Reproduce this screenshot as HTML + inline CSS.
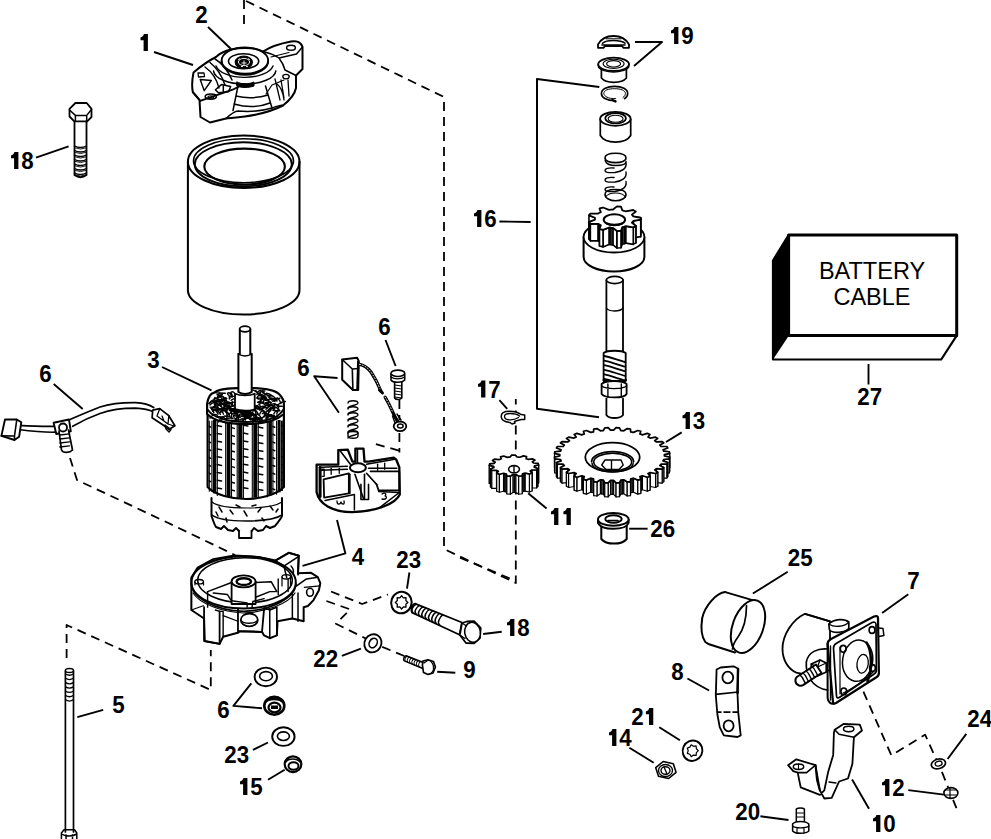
<!DOCTYPE html>
<html><head><meta charset="utf-8"><style>
html,body{margin:0;padding:0;background:#fff;width:991px;height:839px;overflow:hidden}
svg{display:block}
</style></head><body>
<svg width="991" height="839" viewBox="0 0 991 839">
<rect width="991" height="839" fill="#fff"/>
<path d="M143.90,34 L147.90,34 L147.90,51 L143.60,51 L143.60,40.2 L140.50,40.2 L140.50,37.4 C142.30,37.2 143.50,36 143.90,34 Z" fill="#000"/>
<text x="0" y="0" transform="translate(195.26,23) scale(0.93,1)" font-family="Liberation Sans, sans-serif" font-weight="bold" font-size="24">2</text>
<path d="M14.40,152 L18.40,152 L18.40,169 L14.10,169 L14.10,158.2 L11.00,158.2 L11.00,155.4 C12.80,155.2 14.00,154 14.40,152 Z" fill="#000"/>
<text x="0" y="0" transform="translate(21.21,169) scale(0.93,1)" font-family="Liberation Sans, sans-serif" font-weight="bold" font-size="24">8</text>
<path d="M674.40,27 L678.40,27 L678.40,44 L674.10,44 L674.10,33.2 L671.00,33.2 L671.00,30.4 C672.80,30.2 674.00,29 674.40,27 Z" fill="#000"/>
<text x="0" y="0" transform="translate(681.21,44) scale(0.93,1)" font-family="Liberation Sans, sans-serif" font-weight="bold" font-size="24">9</text>
<path d="M477.40,210 L481.40,210 L481.40,227 L477.10,227 L477.10,216.2 L474.00,216.2 L474.00,213.4 C475.80,213.2 477.00,212 477.40,210 Z" fill="#000"/>
<text x="0" y="0" transform="translate(484.21,227) scale(0.93,1)" font-family="Liberation Sans, sans-serif" font-weight="bold" font-size="24">6</text>
<text x="0" y="0" transform="translate(39.26,382) scale(0.93,1)" font-family="Liberation Sans, sans-serif" font-weight="bold" font-size="24">6</text>
<text x="0" y="0" transform="translate(147.26,368) scale(0.93,1)" font-family="Liberation Sans, sans-serif" font-weight="bold" font-size="24">3</text>
<text x="0" y="0" transform="translate(297.26,376) scale(0.93,1)" font-family="Liberation Sans, sans-serif" font-weight="bold" font-size="24">6</text>
<text x="0" y="0" transform="translate(378.26,335) scale(0.93,1)" font-family="Liberation Sans, sans-serif" font-weight="bold" font-size="24">6</text>
<path d="M481.40,380.5 L485.40,380.5 L485.40,397.5 L481.10,397.5 L481.10,386.7 L478.00,386.7 L478.00,383.9 C479.80,383.7 481.00,382.5 481.40,380.5 Z" fill="#000"/>
<text x="0" y="0" transform="translate(488.21,397.5) scale(0.93,1)" font-family="Liberation Sans, sans-serif" font-weight="bold" font-size="24">7</text>
<path d="M685.90,412 L689.90,412 L689.90,429 L685.60,429 L685.60,418.2 L682.50,418.2 L682.50,415.4 C684.30,415.2 685.50,414 685.90,412 Z" fill="#000"/>
<text x="0" y="0" transform="translate(692.71,429) scale(0.93,1)" font-family="Liberation Sans, sans-serif" font-weight="bold" font-size="24">3</text>
<text x="0" y="0" transform="translate(857.26,405) scale(0.93,1)" font-family="Liberation Sans, sans-serif" font-weight="bold" font-size="24">2</text>
<text x="0" y="0" transform="translate(869.67,405) scale(0.93,1)" font-family="Liberation Sans, sans-serif" font-weight="bold" font-size="24">7</text>
<path d="M554.40,508 L558.40,508 L558.40,525 L554.10,525 L554.10,514.2 L551.00,514.2 L551.00,511.4 C552.80,511.2 554.00,510 554.40,508 Z" fill="#000"/>
<path d="M566.81,508 L570.81,508 L570.81,525 L566.51,525 L566.51,514.2 L563.41,514.2 L563.41,511.4 C565.21,511.2 566.41,510 566.81,508 Z" fill="#000"/>
<text x="0" y="0" transform="translate(650.26,537) scale(0.93,1)" font-family="Liberation Sans, sans-serif" font-weight="bold" font-size="24">2</text>
<text x="0" y="0" transform="translate(662.67,537) scale(0.93,1)" font-family="Liberation Sans, sans-serif" font-weight="bold" font-size="24">6</text>
<text x="0" y="0" transform="translate(351.76,565) scale(0.93,1)" font-family="Liberation Sans, sans-serif" font-weight="bold" font-size="24">4</text>
<text x="0" y="0" transform="translate(396.26,568) scale(0.93,1)" font-family="Liberation Sans, sans-serif" font-weight="bold" font-size="24">2</text>
<text x="0" y="0" transform="translate(408.67,568) scale(0.93,1)" font-family="Liberation Sans, sans-serif" font-weight="bold" font-size="24">3</text>
<path d="M510.40,619 L514.40,619 L514.40,636 L510.10,636 L510.10,625.2 L507.00,625.2 L507.00,622.4 C508.80,622.2 510.00,621 510.40,619 Z" fill="#000"/>
<text x="0" y="0" transform="translate(517.21,636) scale(0.93,1)" font-family="Liberation Sans, sans-serif" font-weight="bold" font-size="24">8</text>
<text x="0" y="0" transform="translate(313.26,667) scale(0.93,1)" font-family="Liberation Sans, sans-serif" font-weight="bold" font-size="24">2</text>
<text x="0" y="0" transform="translate(325.67,667) scale(0.93,1)" font-family="Liberation Sans, sans-serif" font-weight="bold" font-size="24">2</text>
<text x="0" y="0" transform="translate(463.26,678) scale(0.93,1)" font-family="Liberation Sans, sans-serif" font-weight="bold" font-size="24">9</text>
<text x="0" y="0" transform="translate(112.26,712.5) scale(0.93,1)" font-family="Liberation Sans, sans-serif" font-weight="bold" font-size="24">5</text>
<text x="0" y="0" transform="translate(217.26,718) scale(0.93,1)" font-family="Liberation Sans, sans-serif" font-weight="bold" font-size="24">6</text>
<text x="0" y="0" transform="translate(224.26,763) scale(0.93,1)" font-family="Liberation Sans, sans-serif" font-weight="bold" font-size="24">2</text>
<text x="0" y="0" transform="translate(236.67,763) scale(0.93,1)" font-family="Liberation Sans, sans-serif" font-weight="bold" font-size="24">3</text>
<path d="M243.40,778 L247.40,778 L247.40,795 L243.10,795 L243.10,784.2 L240.00,784.2 L240.00,781.4 C241.80,781.2 243.00,780 243.40,778 Z" fill="#000"/>
<text x="0" y="0" transform="translate(250.21,795) scale(0.93,1)" font-family="Liberation Sans, sans-serif" font-weight="bold" font-size="24">5</text>
<text x="0" y="0" transform="translate(787.76,565.5) scale(0.93,1)" font-family="Liberation Sans, sans-serif" font-weight="bold" font-size="24">2</text>
<text x="0" y="0" transform="translate(800.17,565.5) scale(0.93,1)" font-family="Liberation Sans, sans-serif" font-weight="bold" font-size="24">5</text>
<text x="0" y="0" transform="translate(907.26,589) scale(0.93,1)" font-family="Liberation Sans, sans-serif" font-weight="bold" font-size="24">7</text>
<text x="0" y="0" transform="translate(671.26,680) scale(0.93,1)" font-family="Liberation Sans, sans-serif" font-weight="bold" font-size="24">8</text>
<text x="0" y="0" transform="translate(631.26,725) scale(0.93,1)" font-family="Liberation Sans, sans-serif" font-weight="bold" font-size="24">2</text>
<path d="M649.27,708 L653.27,708 L653.27,725 L648.97,725 L648.97,714.2 L645.87,714.2 L645.87,711.4 C647.67,711.2 648.87,710 649.27,708 Z" fill="#000"/>
<path d="M612.40,729 L616.40,729 L616.40,746 L612.10,746 L612.10,735.2 L609.00,735.2 L609.00,732.4 C610.80,732.2 612.00,731 612.40,729 Z" fill="#000"/>
<text x="0" y="0" transform="translate(619.21,746) scale(0.93,1)" font-family="Liberation Sans, sans-serif" font-weight="bold" font-size="24">4</text>
<text x="0" y="0" transform="translate(967.26,727) scale(0.93,1)" font-family="Liberation Sans, sans-serif" font-weight="bold" font-size="24">2</text>
<text x="0" y="0" transform="translate(979.67,727) scale(0.93,1)" font-family="Liberation Sans, sans-serif" font-weight="bold" font-size="24">4</text>
<path d="M885.40,779 L889.40,779 L889.40,796 L885.10,796 L885.10,785.2 L882.00,785.2 L882.00,782.4 C883.80,782.2 885.00,781 885.40,779 Z" fill="#000"/>
<text x="0" y="0" transform="translate(892.21,796) scale(0.93,1)" font-family="Liberation Sans, sans-serif" font-weight="bold" font-size="24">2</text>
<text x="0" y="0" transform="translate(735.26,820) scale(0.93,1)" font-family="Liberation Sans, sans-serif" font-weight="bold" font-size="24">2</text>
<text x="0" y="0" transform="translate(747.67,820) scale(0.93,1)" font-family="Liberation Sans, sans-serif" font-weight="bold" font-size="24">0</text>
<path d="M876.40,815 L880.40,815 L880.40,832 L876.10,832 L876.10,821.2 L873.00,821.2 L873.00,818.4 C874.80,818.2 876.00,817 876.40,815 Z" fill="#000"/>
<text x="0" y="0" transform="translate(883.21,832) scale(0.93,1)" font-family="Liberation Sans, sans-serif" font-weight="bold" font-size="24">0</text>
<polyline points="154,52 193,65" fill="none" stroke="#000" stroke-width="1.9" stroke-linejoin="round"/>
<polyline points="208,27 231,49" fill="none" stroke="#000" stroke-width="1.9" stroke-linejoin="round"/>
<polyline points="36,157.6 68.6,146.3" fill="none" stroke="#000" stroke-width="1.9" stroke-linejoin="round"/>
<polyline points="635,42 662,42 634,66" fill="none" stroke="#000" stroke-width="1.9" stroke-linejoin="round"/>
<polyline points="499.4,221.5 530.6,222" fill="none" stroke="#000" stroke-width="1.9" stroke-linejoin="round"/>
<polyline points="53.7,384 82.7,409" fill="none" stroke="#000" stroke-width="1.9" stroke-linejoin="round"/>
<polyline points="162,367 211.5,390.3" fill="none" stroke="#000" stroke-width="1.9" stroke-linejoin="round"/>
<polyline points="337.5,378 314.2,376.3 338.9,412.7" fill="none" stroke="#000" stroke-width="1.9" stroke-linejoin="round"/>
<polyline points="385.5,340 395.6,366" fill="none" stroke="#000" stroke-width="1.9" stroke-linejoin="round"/>
<polyline points="499.4,400.2 507.2,408.8" fill="none" stroke="#000" stroke-width="1.9" stroke-linejoin="round"/>
<polyline points="666,442 681.7,432.4" fill="none" stroke="#000" stroke-width="1.9" stroke-linejoin="round"/>
<polyline points="868.5,364 868.5,384.5" fill="none" stroke="#000" stroke-width="1.9" stroke-linejoin="round"/>
<polyline points="528.2,493.3 546.6,508.5" fill="none" stroke="#000" stroke-width="1.9" stroke-linejoin="round"/>
<polyline points="629.2,528.7 647.6,528.7" fill="none" stroke="#000" stroke-width="1.9" stroke-linejoin="round"/>
<polyline points="302.5,565.8 345.4,553.4 337,520" fill="none" stroke="#000" stroke-width="1.9" stroke-linejoin="round"/>
<polyline points="409.4,572.5 407,588.7" fill="none" stroke="#000" stroke-width="1.9" stroke-linejoin="round"/>
<polyline points="483.2,634 501.7,631.7" fill="none" stroke="#000" stroke-width="1.9" stroke-linejoin="round"/>
<polyline points="341.9,655.8 360.9,648.7" fill="none" stroke="#000" stroke-width="1.9" stroke-linejoin="round"/>
<polyline points="437.2,671.8 455.3,672.7" fill="none" stroke="#000" stroke-width="1.9" stroke-linejoin="round"/>
<polyline points="77.3,717.2 103.2,709.9" fill="none" stroke="#000" stroke-width="1.9" stroke-linejoin="round"/>
<polyline points="251.3,683.3 233.4,705.9 262,708.3" fill="none" stroke="#000" stroke-width="1.9" stroke-linejoin="round"/>
<polyline points="253,749.9 268,742.5" fill="none" stroke="#000" stroke-width="1.9" stroke-linejoin="round"/>
<polyline points="268,779.8 284.7,769.8" fill="none" stroke="#000" stroke-width="1.9" stroke-linejoin="round"/>
<polyline points="787.7,571.8 752.9,593.5" fill="none" stroke="#000" stroke-width="1.9" stroke-linejoin="round"/>
<polyline points="908.3,594.3 882.1,613" fill="none" stroke="#000" stroke-width="1.9" stroke-linejoin="round"/>
<polyline points="687.4,678.5 709.1,690.5" fill="none" stroke="#000" stroke-width="1.9" stroke-linejoin="round"/>
<polyline points="659.3,727.2 679.9,740.3" fill="none" stroke="#000" stroke-width="1.9" stroke-linejoin="round"/>
<polyline points="629.4,747.8 653.7,762.8" fill="none" stroke="#000" stroke-width="1.9" stroke-linejoin="round"/>
<polyline points="852.1,779.6 869,808.8" fill="none" stroke="#000" stroke-width="1.9" stroke-linejoin="round"/>
<polyline points="760.4,816.3 788.5,820" fill="none" stroke="#000" stroke-width="1.9" stroke-linejoin="round"/>
<polyline points="966.3,733.9 947.6,759" fill="none" stroke="#000" stroke-width="1.9" stroke-linejoin="round"/>
<polyline points="908.3,790.1 943.9,794.6" fill="none" stroke="#000" stroke-width="1.9" stroke-linejoin="round"/>
<polyline points="599.3,87 537,79 537,408.8 599,417.2" fill="none" stroke="#000" stroke-width="2" stroke-linejoin="round"/>
<polyline points="244,0 244,27" fill="none" stroke="#000" stroke-width="1.8" stroke-linejoin="round" stroke-dasharray="9,6"/>
<polyline points="246,1 444,97 444,549 515.8,583 515.8,399" fill="none" stroke="#000" stroke-width="1.8" stroke-linejoin="round" stroke-dasharray="9,6"/>
<polyline points="460,557.6 515.8,581" fill="none" stroke="#000" stroke-width="1.8" stroke-linejoin="round" stroke-dasharray="9,6"/>
<polyline points="70,458 77,480 162,520 235,555" fill="none" stroke="#000" stroke-width="1.8" stroke-linejoin="round" stroke-dasharray="9,6"/>
<polyline points="66.6,658 66.6,625 210.8,690 210.8,650" fill="none" stroke="#000" stroke-width="1.8" stroke-linejoin="round" stroke-dasharray="9,6"/>
<polyline points="331,591.5 362.1,604 388,594.5" fill="none" stroke="#000" stroke-width="1.8" stroke-linejoin="round" stroke-dasharray="9,6"/>
<polyline points="326.4,601 350.2,609.4 335.9,623.7 366,638.6" fill="none" stroke="#000" stroke-width="1.8" stroke-linejoin="round" stroke-dasharray="9,6"/>
<polyline points="382.2,646.8 404.3,656" fill="none" stroke="#000" stroke-width="1.8" stroke-linejoin="round" stroke-dasharray="9,6"/>
<polyline points="399.4,400 399.4,420" fill="none" stroke="#000" stroke-width="1.8" stroke-linejoin="round" stroke-dasharray="9,6"/>
<polyline points="399.4,433 399.4,452.5" fill="none" stroke="#000" stroke-width="1.8" stroke-linejoin="round" stroke-dasharray="9,6"/>
<polyline points="375.9,444.2 400.5,451" fill="none" stroke="#000" stroke-width="1.8" stroke-linejoin="round" stroke-dasharray="9,6"/>
<polyline points="863.4,691.6 891.4,755.3 925.1,734.7 942,772.1 957,809.6" fill="none" stroke="#000" stroke-width="1.8" stroke-linejoin="round" stroke-dasharray="9,6"/>
<polygon points="773,260.5 788.6,235 788.6,336 773,359.5" fill="#000"/>
<polygon points="788.6,235 956.7,235 956.7,335.6 788.6,335.6" fill="none" stroke="#000" stroke-width="3" stroke-linejoin="round"/>
<polyline points="788.6,335.6 956.7,335.6 941.2,359.5 773,359.5 773,260.5 788.6,235" fill="none" stroke="#000" stroke-width="2.2" stroke-linejoin="round"/>
<text x="872" y="279" text-anchor="middle" font-family="Liberation Sans, sans-serif" font-size="23.5">BATTERY</text>
<text x="872" y="305.3" text-anchor="middle" font-family="Liberation Sans, sans-serif" font-size="23.5">CABLE</text>
<path d="M187.9,161.7 L187.9,290 A55.8,24.5 0 0 0 299.5,290 L299.5,161.7" fill="none" stroke="#000" stroke-width="2" stroke-linejoin="round" stroke-linecap="round" />
<ellipse cx="243.7" cy="161.7" rx="55.8" ry="26.2" fill="none" stroke="#000" stroke-width="2"/>
<ellipse cx="243.5" cy="160.7" rx="50" ry="22" fill="none" stroke="#000" stroke-width="1.6"/>
<ellipse cx="243.3" cy="164.3" rx="48.5" ry="22" fill="none" stroke="#000" stroke-width="1.9"/>
<ellipse cx="244.6" cy="166.6" rx="40.3" ry="18" fill="none" stroke="#000" stroke-width="2.1"/>
<path d="M193.5,72.5 C192,80 192,88 192.8,92 L199.5,100 L200.5,117 L210,122.5 L226,118.5 C240,117 262,116 283,105.5 C290,100 295,93 296,88 L296,75.5 L302.5,69 L302.5,47 C301,42 296,40.5 291,41.5 C283,43 270,47 263,51.5 C255,47 235,46.5 222.5,52.5 C219,54 217,56 216,57 C208,61 200,67 193.5,72.5 Z" fill="#fff" stroke="#000" stroke-width="2" stroke-linejoin="round" stroke-linecap="round" />
<path d="M213.5,71 A31.2,13.9 0 0 0 275.8,71" fill="none" stroke="#000" stroke-width="1.6" stroke-linejoin="round" stroke-linecap="round" />
<path d="M216,66 A29,14 0 0 0 273,66" fill="none" stroke="#000" stroke-width="1.4" stroke-linejoin="round" stroke-linecap="round" />
<path d="M221.6,61 A23.3,13.9 0 0 0 268.2,61" fill="none" stroke="#000" stroke-width="1.8" stroke-linejoin="round" stroke-linecap="round" />
<ellipse cx="244.9" cy="60.5" rx="23.3" ry="13.2" fill="none" stroke="#000" stroke-width="1.8"/>
<ellipse cx="243.6" cy="61.2" rx="15.1" ry="7.5" fill="none" stroke="#000" stroke-width="1.6"/>
<ellipse cx="243.8" cy="62.3" rx="8.6" ry="6.1" fill="#000" stroke="#000" stroke-width="1.2"/>
<ellipse cx="244" cy="62" rx="5.6" ry="3.6" fill="none" stroke="#fff" stroke-width="0.9"/>
<path d="M241.5,63 L246.5,63 M244,60.5 L244,65.5 M238,60 L240,58.5 M248,58.5 L250,60 M241,66.5 L243,66.5 M246,66.5 L248,66.5" stroke="#fff" stroke-width="0.9" fill="none"/>
<path d="M237,82 C242,84.5 248,84.5 254,82 L254,86 C248,88 242,88 237,86 Z" fill="#000" stroke="#000" stroke-width="1" stroke-linejoin="round" stroke-linecap="round" />
<path d="M238,86 L233,110.5 M265.5,86 L272,108 M236,96 C248,99 258,98 268,95 M234,104 C248,108 260,107 270,103" fill="none" stroke="#000" stroke-width="1.5" stroke-linejoin="round" stroke-linecap="round" />
<path d="M226,118.5 C232,113 236,111 238,111 C250,112 262,111 272,108 C278,106 282,104 283,105.5" fill="none" stroke="#000" stroke-width="1.5" stroke-linejoin="round" stroke-linecap="round" />
<path d="M200.2,100.8 L232.6,89.7 L238.7,86.6" fill="none" stroke="#000" stroke-width="1.8" stroke-linejoin="round" stroke-linecap="round" />
<path d="M193,92.5 L200.2,100.8" fill="none" stroke="#000" stroke-width="1.5" stroke-linejoin="round" stroke-linecap="round" />
<ellipse cx="210.8" cy="96.6" rx="5.6" ry="2.6" fill="none" stroke="#000" stroke-width="1.6"/>
<ellipse cx="210.8" cy="96.9" rx="2.8" ry="1.2" fill="none" stroke="#000" stroke-width="1.1"/>
<path d="M215.4,89.7 L221.4,84.6 L230.6,86.6 L228.5,91.7 L218.4,92.7 Z M223.3,85.5 L223.3,92" fill="none" stroke="#000" stroke-width="1.5" stroke-linejoin="round" stroke-linecap="round" />
<path d="M200.2,79.5 L211.3,80.5 L204.2,90.7 Z" fill="none" stroke="#000" stroke-width="1.4" stroke-linejoin="round" stroke-linecap="round" />
<path d="M198,73 L204,73 L204.5,76.5 L198.5,77 Z" fill="none" stroke="#000" stroke-width="1.3" stroke-linejoin="round" stroke-linecap="round" />
<path d="M205,67 C212,72 217,80 219,88 M210,62.5 C217,68 222,76 225,85 M215,59 C222,63 228,71 232,80" fill="none" stroke="#000" stroke-width="1.5" stroke-linejoin="round" stroke-linecap="round" />
<path d="M263,51.5 C270,53 276,56 279,58 L296.5,54 L302.5,47 M279,58 C282,62 284,66 285,70 L296,75.5" fill="none" stroke="#000" stroke-width="1.5" stroke-linejoin="round" stroke-linecap="round" />
<ellipse cx="291" cy="47.8" rx="4.4" ry="2.5" fill="none" stroke="#000" stroke-width="1.4"/>
<path d="M271,57 L289,52.5" fill="none" stroke="#000" stroke-width="1.2" stroke-linejoin="round" stroke-linecap="round" />
<ellipse cx="286" cy="76.6" rx="3.2" ry="2.2" fill="none" stroke="#000" stroke-width="1.3"/>
<path d="M275,79 L280,100 M281,80 L284,98 M288,80 L289,96 M277,84 C281,87 283,92 284,100" fill="none" stroke="#000" stroke-width="1.3" stroke-linejoin="round" stroke-linecap="round" />
<path d="M266,94 L272,85 L284,80" fill="none" stroke="#000" stroke-width="1.2" stroke-linejoin="round" stroke-linecap="round" />
<path d="M69.5,108.9 L75.4,103 L86.7,103 L91.5,108.9 L91.5,117 L87.2,121.3 L74.3,121.3 L69.5,116.5 Z" fill="#fff" stroke="#000" stroke-width="1.8" stroke-linejoin="round" stroke-linecap="round" />
<path d="M69.5,110 L75.4,115.4 L86.7,115.4 L91.5,109.5 M75.4,115.4 L75.4,121.3 M86.7,115.4 L86.7,121.3" fill="none" stroke="#000" stroke-width="1.5" stroke-linejoin="round" stroke-linecap="round" />
<path d="M74.5,121.3 L74.5,175 Q80.5,179.5 86.5,175 L86.5,121.3" fill="none" stroke="#000" stroke-width="1.8" stroke-linejoin="round" stroke-linecap="round" />
<path d="M74.5,146.0 Q80.5,149.0 86.5,146.0" fill="none" stroke="#000" stroke-width="1.3" stroke-linejoin="round" stroke-linecap="round" />
<path d="M74.5,147.8 Q80.5,150.5 86.5,147.8" fill="none" stroke="#000" stroke-width="0.9" stroke-linejoin="round" stroke-linecap="round" />
<path d="M74.5,150.5 Q80.5,153.5 86.5,150.5" fill="none" stroke="#000" stroke-width="1.3" stroke-linejoin="round" stroke-linecap="round" />
<path d="M74.5,152.3 Q80.5,155.0 86.5,152.3" fill="none" stroke="#000" stroke-width="0.9" stroke-linejoin="round" stroke-linecap="round" />
<path d="M74.5,155.0 Q80.5,158.0 86.5,155.0" fill="none" stroke="#000" stroke-width="1.3" stroke-linejoin="round" stroke-linecap="round" />
<path d="M74.5,156.8 Q80.5,159.5 86.5,156.8" fill="none" stroke="#000" stroke-width="0.9" stroke-linejoin="round" stroke-linecap="round" />
<path d="M74.5,159.5 Q80.5,162.5 86.5,159.5" fill="none" stroke="#000" stroke-width="1.3" stroke-linejoin="round" stroke-linecap="round" />
<path d="M74.5,161.3 Q80.5,164.0 86.5,161.3" fill="none" stroke="#000" stroke-width="0.9" stroke-linejoin="round" stroke-linecap="round" />
<path d="M74.5,164.0 Q80.5,167.0 86.5,164.0" fill="none" stroke="#000" stroke-width="1.3" stroke-linejoin="round" stroke-linecap="round" />
<path d="M74.5,165.8 Q80.5,168.5 86.5,165.8" fill="none" stroke="#000" stroke-width="0.9" stroke-linejoin="round" stroke-linecap="round" />
<path d="M74.5,168.5 Q80.5,171.5 86.5,168.5" fill="none" stroke="#000" stroke-width="1.3" stroke-linejoin="round" stroke-linecap="round" />
<path d="M74.5,170.3 Q80.5,173.0 86.5,170.3" fill="none" stroke="#000" stroke-width="0.9" stroke-linejoin="round" stroke-linecap="round" />
<path d="M74.5,173.0 Q80.5,176.0 86.5,173.0" fill="none" stroke="#000" stroke-width="1.3" stroke-linejoin="round" stroke-linecap="round" />
<path d="M74.5,174.8 Q80.5,177.5 86.5,174.8" fill="none" stroke="#000" stroke-width="0.9" stroke-linejoin="round" stroke-linecap="round" />
<path d="M598,47.8 L598,44.5 C601,39 606,36 613.5,36 C621,36 626,39 629,44.5 L629,47.8 L623.5,47.8 L622,46 L605,46 L603.5,47.8 Z" fill="#fff" stroke="#000" stroke-width="1.8" stroke-linejoin="round" stroke-linecap="round" />
<path d="M602.5,43.2 C605,40.8 609,40.5 613.5,40.5 C618,40.5 622,40.8 625,43.2" fill="none" stroke="#000" stroke-width="1.5" stroke-linejoin="round" stroke-linecap="round" />
<path d="M606,38.8 L621,38.8" fill="none" stroke="#000" stroke-width="1.0" stroke-linejoin="round" stroke-linecap="round" />
<path d="M602,45 L625,45" fill="none" stroke="#000" stroke-width="1.6" stroke-linejoin="round" stroke-linecap="round" />
<path d="M601.4,68 L601.4,78 C604,81 609,82.3 613.6,82.3 C618,82.3 624,81 626.4,78 L626.4,68" fill="#fff" stroke="#000" stroke-width="1.7" stroke-linejoin="round" stroke-linecap="round" />
<ellipse cx="613.6" cy="64.3" rx="15.4" ry="6.6" fill="#fff" stroke="#000" stroke-width="1.8"/>
<path d="M598.2,64.3 L598.5,67 C600,70 607,72 613.6,72 C620,72 627,70 628.7,67 L629,64.3" fill="none" stroke="#000" stroke-width="1.4" stroke-linejoin="round" stroke-linecap="round" />
<ellipse cx="613.6" cy="63.8" rx="10.5" ry="4.6" fill="none" stroke="#000" stroke-width="1.1"/>
<ellipse cx="613.6" cy="63.8" rx="7" ry="3.2" fill="none" stroke="#000" stroke-width="1.2"/>
<path d="M615.5,100.8 C606,101 601.3,97 601.4,93.5 C601.5,89 607,86.4 614.6,86.4 C622,86.4 627.7,89 627.7,93.5 C627.7,95.5 626.5,97.5 624.5,98.7" fill="none" stroke="#000" stroke-width="1.6" stroke-linejoin="round" stroke-linecap="round" />
<path d="M615.5,98.6 C608,99 604,96 603.8,93.5 C603.9,90.3 608,88.7 614.6,88.7 C621,88.7 625.3,90.5 625.4,93.5 C625.4,95 624.5,96.5 623,97.5" fill="none" stroke="#000" stroke-width="1" stroke-linejoin="round" stroke-linecap="round" />
<path d="M612.5,100 L615.5,101.5" fill="none" stroke="#000" stroke-width="2.4" stroke-linejoin="round" stroke-linecap="round" />
<path d="M600.3,119 L600.3,135.5 C603,140 609,142.1 615.4,142.1 C622,142.1 628,140 630.7,135.5 L630.7,119" fill="#fff" stroke="#000" stroke-width="1.7" stroke-linejoin="round" stroke-linecap="round" />
<ellipse cx="615.4" cy="118.8" rx="15.2" ry="7" fill="#fff" stroke="#000" stroke-width="1.8"/>
<ellipse cx="615.6" cy="118.3" rx="10.3" ry="5.2" fill="none" stroke="#000" stroke-width="1.7"/>
<ellipse cx="615.6" cy="118.8" rx="7.5" ry="3.5" fill="none" stroke="#000" stroke-width="1.1"/>
<path d="M605,158 C605,154.5 610,153.3 615.5,153.3 C621,153.3 626,154.5 626,158 C626,161 621,162.6 615.5,162.6 C610,162.6 605,161 605,158 Z" fill="none" stroke="#000" stroke-width="1.6" stroke-linejoin="round" stroke-linecap="round" />
<path d="M605.2,160.5 C606,164.5 611,165.5 616,165.5 C622,165.5 626,164 626,161.5" fill="none" stroke="#000" stroke-width="1.4" stroke-linejoin="round" stroke-linecap="round" />
<path d="M626,162.5 C627,168.5 622,171.5 615,172.5 C608,173.0 605,172.5 605,170.5 C605,168.5 608,167.5 614,168.0" fill="none" stroke="#000" stroke-width="1.4" stroke-linejoin="round" stroke-linecap="round" />
<path d="M626,172.0 C627,178.0 622,181.0 615,182.0 C608,182.5 605,182.0 605,180.0 C605,178.0 608,177.0 614,177.5" fill="none" stroke="#000" stroke-width="1.4" stroke-linejoin="round" stroke-linecap="round" />
<path d="M626,181.5 C627,187.5 622,190.5 615,191.5 C608,192.0 605,191.5 605,189.5 C605,187.5 608,186.5 614,187.0" fill="none" stroke="#000" stroke-width="1.4" stroke-linejoin="round" stroke-linecap="round" />
<path d="M605,194.5 C605,191 610,189.5 615.5,189.5 C621,189.5 626,191 626,194.5 C626,198 621,200.8 615.5,200.8 C610,200.8 605,198 605,194.5 Z" fill="none" stroke="#000" stroke-width="1.6" stroke-linejoin="round" stroke-linecap="round" />
<path d="M605.5,197 C608,193.5 612,193 615.5,193 C620,193 624,194 625.5,197.5" fill="none" stroke="#000" stroke-width="1.1" stroke-linejoin="round" stroke-linecap="round" />
<path d="M606.4,280 L606.4,356 M623,280 L623,356" fill="none" stroke="#000" stroke-width="1.8" stroke-linejoin="round" stroke-linecap="round" />
<ellipse cx="614.7" cy="280" rx="8.3" ry="3.6" fill="#fff" stroke="#000" stroke-width="1.7"/>
<path d="M606.4,308 C609,312 620,312 623,308" fill="none" stroke="#000" stroke-width="1.3" stroke-linejoin="round" stroke-linecap="round" />
<path d="M603.6,353 L603.6,381 L625.7,381 L625.7,353 C622,350 607,350 603.6,353 Z" fill="#fff" stroke="#000" stroke-width="1.8" stroke-linejoin="round" stroke-linecap="round" />
<path d="M604.5,356.0 C610,357.0 620,361.0 625,362.0" fill="none" stroke="#000" stroke-width="1.8" stroke-linejoin="round" stroke-linecap="round" />
<path d="M604.5,360.6 C610,361.6 620,365.6 625,366.6" fill="none" stroke="#000" stroke-width="1.8" stroke-linejoin="round" stroke-linecap="round" />
<path d="M604.5,365.2 C610,366.2 620,370.2 625,371.2" fill="none" stroke="#000" stroke-width="1.8" stroke-linejoin="round" stroke-linecap="round" />
<path d="M604.5,369.8 C610,370.8 620,374.8 625,375.8" fill="none" stroke="#000" stroke-width="1.8" stroke-linejoin="round" stroke-linecap="round" />
<path d="M604.5,374.4 C610,375.4 620,379.4 625,380.4" fill="none" stroke="#000" stroke-width="1.8" stroke-linejoin="round" stroke-linecap="round" />
<path d="M604.5,379.0 C610,380.0 620,384.0 625,385.0" fill="none" stroke="#000" stroke-width="1.8" stroke-linejoin="round" stroke-linecap="round" />
<path d="M603.5,380 C610,384 620,384 626,380" fill="none" stroke="#000" stroke-width="2" stroke-linejoin="round" stroke-linecap="round" />
<path d="M601.6,384 L601.6,394 C605,398.6 624,398.6 626.6,394 L626.6,384 C622,380 606,380 601.6,384 Z" fill="#fff" stroke="#000" stroke-width="1.8" stroke-linejoin="round" stroke-linecap="round" />
<path d="M607.9,384 L607.9,397.5 M621.3,384 L621.3,397.5 M601.6,386 C606,389.5 622,389.5 626.6,386" fill="none" stroke="#000" stroke-width="1.4" stroke-linejoin="round" stroke-linecap="round" />
<path d="M606.4,398.6 L606.4,415 C609,419 620,419 623,415 L623,398.6" fill="none" stroke="#000" stroke-width="1.8" stroke-linejoin="round" stroke-linecap="round" />
<path d="M583.6,237 L583.6,257 A30.4,14.5 0 0 0 644.4,257 L644.4,237" fill="#fff" stroke="#000" stroke-width="2" stroke-linejoin="round" stroke-linecap="round" />
<ellipse cx="614" cy="237" rx="30.4" ry="15.5" fill="#fff" stroke="#000" stroke-width="1.8"/>
<path d="M595.00,217.75 L588.97,215.37 L588.97,232.37 L595.00,234.75 Z" fill="#fff" stroke="#000" stroke-width="1.6" stroke-linejoin="round"/>
<path d="M633.32,216.47 L640.72,217.74 L640.72,234.74 L633.32,233.47 Z" fill="#fff" stroke="#000" stroke-width="1.6" stroke-linejoin="round"/>
<path d="M594.90,218.71 L595.00,217.75 L595.00,234.75 L594.90,235.71 Z" fill="#fff" stroke="#000" stroke-width="1.6" stroke-linejoin="round"/>
<path d="M640.72,217.74 L640.72,219.64 L640.72,236.64 L640.72,234.74 Z" fill="#fff" stroke="#000" stroke-width="1.6" stroke-linejoin="round"/>
<path d="M595.01,219.67 L594.90,218.71 L594.90,235.71 L595.01,236.67 Z" fill="#fff" stroke="#000" stroke-width="1.6" stroke-linejoin="round"/>
<path d="M640.72,219.64 L633.33,220.91 L633.33,237.91 L640.72,236.64 Z" fill="#fff" stroke="#000" stroke-width="1.6" stroke-linejoin="round"/>
<path d="M588.98,222.05 L595.01,219.67 L595.01,236.67 L588.98,239.05 Z" fill="#fff" stroke="#000" stroke-width="1.6" stroke-linejoin="round"/>
<path d="M633.33,220.91 L632.73,221.83 L632.73,238.83 L633.33,237.91 Z" fill="#fff" stroke="#000" stroke-width="1.6" stroke-linejoin="round"/>
<path d="M632.73,221.83 L631.93,222.71 L631.93,239.71 L632.73,238.83 Z" fill="#fff" stroke="#000" stroke-width="1.6" stroke-linejoin="round"/>
<path d="M590.37,223.84 L588.98,222.05 L588.98,239.05 L590.37,240.84 Z" fill="#fff" stroke="#000" stroke-width="1.6" stroke-linejoin="round"/>
<path d="M598.24,223.83 L590.37,223.84 L590.37,240.84 L598.24,240.83 Z" fill="#fff" stroke="#000" stroke-width="1.6" stroke-linejoin="round"/>
<path d="M599.47,224.60 L598.24,223.83 L598.24,240.83 L599.47,241.60 Z" fill="#fff" stroke="#000" stroke-width="1.6" stroke-linejoin="round"/>
<path d="M631.93,222.71 L635.88,225.91 L635.88,242.91 L631.93,239.71 Z" fill="#fff" stroke="#000" stroke-width="1.6" stroke-linejoin="round"/>
<path d="M600.87,225.30 L599.47,224.60 L599.47,241.60 L600.87,242.30 Z" fill="#fff" stroke="#000" stroke-width="1.6" stroke-linejoin="round"/>
<path d="M625.88,226.11 L624.17,226.63 L624.17,243.63 L625.88,243.11 Z" fill="#fff" stroke="#000" stroke-width="1.6" stroke-linejoin="round"/>
<path d="M635.88,225.91 L633.28,227.37 L633.28,244.37 L635.88,242.91 Z" fill="#fff" stroke="#000" stroke-width="1.6" stroke-linejoin="round"/>
<path d="M633.28,227.37 L625.88,226.11 L625.88,243.11 L633.28,244.37 Z" fill="#fff" stroke="#000" stroke-width="1.6" stroke-linejoin="round"/>
<path d="M624.17,226.63 L622.35,227.07 L622.35,244.07 L624.17,243.63 Z" fill="#fff" stroke="#000" stroke-width="1.6" stroke-linejoin="round"/>
<path d="M599.51,228.94 L600.87,225.30 L600.87,242.30 L599.51,245.94 Z" fill="#fff" stroke="#000" stroke-width="1.6" stroke-linejoin="round"/>
<path d="M611.03,227.73 L609.04,227.51 L609.04,244.51 L611.03,244.73 Z" fill="#fff" stroke="#000" stroke-width="1.6" stroke-linejoin="round"/>
<path d="M613.06,227.84 L611.03,227.73 L611.03,244.73 L613.06,244.84 Z" fill="#fff" stroke="#000" stroke-width="1.6" stroke-linejoin="round"/>
<path d="M609.04,227.51 L603.02,229.89 L603.02,246.89 L609.04,244.51 Z" fill="#fff" stroke="#000" stroke-width="1.6" stroke-linejoin="round"/>
<path d="M622.35,227.07 L620.99,230.72 L620.99,247.72 L622.35,244.07 Z" fill="#fff" stroke="#000" stroke-width="1.6" stroke-linejoin="round"/>
<path d="M603.02,229.89 L599.51,228.94 L599.51,245.94 L603.02,246.89 Z" fill="#fff" stroke="#000" stroke-width="1.6" stroke-linejoin="round"/>
<path d="M617.00,231.05 L613.06,227.84 L613.06,244.84 L617.00,248.05 Z" fill="#fff" stroke="#000" stroke-width="1.6" stroke-linejoin="round"/>
<path d="M620.99,230.72 L617.00,231.05 L617.00,248.05 L620.99,247.72 Z" fill="#fff" stroke="#000" stroke-width="1.6" stroke-linejoin="round"/>
<path d="M632.72,215.56 L633.32,216.47 L640.72,217.74 L640.72,219.64 L633.33,220.91 L632.73,221.83 L631.93,222.71 L635.88,225.91 L633.28,227.37 L625.88,226.11 L624.17,226.63 L622.35,227.07 L620.99,230.72 L617.00,231.05 L613.06,227.84 L611.03,227.73 L609.04,227.51 L603.02,229.89 L599.51,228.94 L600.87,225.30 L599.47,224.60 L598.24,223.83 L590.37,223.84 L588.98,222.05 L595.01,219.67 L594.90,218.71 L595.00,217.75 L588.97,215.37 L590.35,213.58 L598.22,213.58 L599.45,212.82 L600.84,212.11 L599.46,208.47 L602.97,207.52 L609.01,209.89 L611.00,209.68 L613.02,209.56 L616.95,206.35 L620.94,206.68 L622.31,210.32 L624.13,210.76 L625.85,211.28 L633.24,210.01 L635.85,211.47 L631.92,214.67 Z" fill="#fff" stroke="#000" stroke-width="1.8" stroke-linejoin="round"/>
<ellipse cx="614.4" cy="219.7" rx="10.7" ry="5.4" fill="#fff" stroke="#000" stroke-width="2"/>
<path d="M607,223.5 C611,225.5 618,225.5 622,223.5" fill="none" stroke="#000" stroke-width="2.4" stroke-linejoin="round" stroke-linecap="round" />
<path d="M560.80,450.40 L561.13,449.68 L561.13,463.68 L560.80,464.40 Z" fill="#fff" stroke="#000" stroke-width="1.2" stroke-linejoin="round"/>
<path d="M663.07,449.68 L663.40,450.40 L663.40,464.40 L663.07,463.68 Z" fill="#fff" stroke="#000" stroke-width="1.2" stroke-linejoin="round"/>
<path d="M560.53,451.13 L560.80,450.40 L560.80,464.40 L560.53,465.13 Z" fill="#fff" stroke="#000" stroke-width="1.2" stroke-linejoin="round"/>
<path d="M663.40,450.40 L663.67,451.13 L663.67,465.13 L663.40,464.40 Z" fill="#fff" stroke="#000" stroke-width="1.2" stroke-linejoin="round"/>
<path d="M554.87,451.77 L560.53,451.13 L560.53,465.13 L554.87,465.77 Z" fill="#fff" stroke="#000" stroke-width="1.2" stroke-linejoin="round"/>
<path d="M663.67,451.13 L669.33,451.77 L669.33,465.77 L663.67,465.13 Z" fill="#fff" stroke="#000" stroke-width="1.2" stroke-linejoin="round"/>
<path d="M554.54,453.40 L554.87,451.77 L554.87,465.77 L554.54,467.40 Z" fill="#fff" stroke="#000" stroke-width="1.2" stroke-linejoin="round"/>
<path d="M669.33,451.77 L669.66,453.40 L669.66,467.40 L669.33,465.77 Z" fill="#fff" stroke="#000" stroke-width="1.2" stroke-linejoin="round"/>
<path d="M669.66,453.40 L664.38,454.56 L664.38,468.56 L669.66,467.40 Z" fill="#fff" stroke="#000" stroke-width="1.2" stroke-linejoin="round"/>
<path d="M559.82,454.56 L554.54,453.40 L554.54,467.40 L559.82,468.56 Z" fill="#fff" stroke="#000" stroke-width="1.2" stroke-linejoin="round"/>
<path d="M559.80,455.30 L559.82,454.56 L559.82,468.56 L559.80,469.30 Z" fill="#fff" stroke="#000" stroke-width="1.2" stroke-linejoin="round"/>
<path d="M664.38,454.56 L664.40,455.30 L664.40,469.30 L664.38,468.56 Z" fill="#fff" stroke="#000" stroke-width="1.2" stroke-linejoin="round"/>
<path d="M664.40,455.30 L664.38,456.04 L664.38,470.04 L664.40,469.30 Z" fill="#fff" stroke="#000" stroke-width="1.2" stroke-linejoin="round"/>
<path d="M559.82,456.04 L559.80,455.30 L559.80,469.30 L559.82,470.04 Z" fill="#fff" stroke="#000" stroke-width="1.2" stroke-linejoin="round"/>
<path d="M664.38,456.04 L669.66,457.20 L669.66,471.20 L664.38,470.04 Z" fill="#fff" stroke="#000" stroke-width="1.2" stroke-linejoin="round"/>
<path d="M554.54,457.20 L559.82,456.04 L559.82,470.04 L554.54,471.20 Z" fill="#fff" stroke="#000" stroke-width="1.2" stroke-linejoin="round"/>
<path d="M669.66,457.20 L669.33,458.83 L669.33,472.83 L669.66,471.20 Z" fill="#fff" stroke="#000" stroke-width="1.2" stroke-linejoin="round"/>
<path d="M554.87,458.83 L554.54,457.20 L554.54,471.20 L554.87,472.83 Z" fill="#fff" stroke="#000" stroke-width="1.2" stroke-linejoin="round"/>
<path d="M669.33,458.83 L663.67,459.47 L663.67,473.47 L669.33,472.83 Z" fill="#fff" stroke="#000" stroke-width="1.2" stroke-linejoin="round"/>
<path d="M560.53,459.47 L554.87,458.83 L554.87,472.83 L560.53,473.47 Z" fill="#fff" stroke="#000" stroke-width="1.2" stroke-linejoin="round"/>
<path d="M663.67,459.47 L663.40,460.20 L663.40,474.20 L663.67,473.47 Z" fill="#fff" stroke="#000" stroke-width="1.2" stroke-linejoin="round"/>
<path d="M560.80,460.20 L560.53,459.47 L560.53,473.47 L560.80,474.20 Z" fill="#fff" stroke="#000" stroke-width="1.2" stroke-linejoin="round"/>
<path d="M663.40,460.20 L663.07,460.92 L663.07,474.92 L663.40,474.20 Z" fill="#fff" stroke="#000" stroke-width="1.2" stroke-linejoin="round"/>
<path d="M561.13,460.92 L560.80,460.20 L560.80,474.20 L561.13,474.92 Z" fill="#fff" stroke="#000" stroke-width="1.2" stroke-linejoin="round"/>
<path d="M663.07,460.92 L667.78,462.56 L667.78,476.56 L663.07,474.92 Z" fill="#fff" stroke="#000" stroke-width="1.2" stroke-linejoin="round"/>
<path d="M556.42,462.56 L561.13,460.92 L561.13,474.92 L556.42,476.56 Z" fill="#fff" stroke="#000" stroke-width="1.2" stroke-linejoin="round"/>
<path d="M667.78,462.56 L666.80,464.12 L666.80,478.12 L667.78,476.56 Z" fill="#fff" stroke="#000" stroke-width="1.2" stroke-linejoin="round"/>
<path d="M557.40,464.12 L556.42,462.56 L556.42,476.56 L557.40,478.12 Z" fill="#fff" stroke="#000" stroke-width="1.2" stroke-linejoin="round"/>
<path d="M666.80,464.12 L660.99,464.22 L660.99,478.22 L666.80,478.12 Z" fill="#fff" stroke="#000" stroke-width="1.2" stroke-linejoin="round"/>
<path d="M563.21,464.22 L557.40,464.12 L557.40,478.12 L563.21,478.22 Z" fill="#fff" stroke="#000" stroke-width="1.2" stroke-linejoin="round"/>
<path d="M660.99,464.22 L660.42,464.91 L660.42,478.91 L660.99,478.22 Z" fill="#fff" stroke="#000" stroke-width="1.2" stroke-linejoin="round"/>
<path d="M563.78,464.91 L563.21,464.22 L563.21,478.22 L563.78,478.91 Z" fill="#fff" stroke="#000" stroke-width="1.2" stroke-linejoin="round"/>
<path d="M564.39,465.59 L563.78,464.91 L563.78,478.91 L564.39,479.59 Z" fill="#fff" stroke="#000" stroke-width="1.2" stroke-linejoin="round"/>
<path d="M660.42,464.91 L659.81,465.59 L659.81,479.59 L660.42,478.91 Z" fill="#fff" stroke="#000" stroke-width="1.2" stroke-linejoin="round"/>
<path d="M659.81,465.59 L663.77,467.63 L663.77,481.63 L659.81,479.59 Z" fill="#fff" stroke="#000" stroke-width="1.2" stroke-linejoin="round"/>
<path d="M560.43,467.63 L564.39,465.59 L564.39,479.59 L560.43,481.63 Z" fill="#fff" stroke="#000" stroke-width="1.2" stroke-linejoin="round"/>
<path d="M663.77,467.63 L662.16,469.07 L662.16,483.07 L663.77,481.63 Z" fill="#fff" stroke="#000" stroke-width="1.2" stroke-linejoin="round"/>
<path d="M562.04,469.07 L560.43,467.63 L560.43,481.63 L562.04,483.07 Z" fill="#fff" stroke="#000" stroke-width="1.2" stroke-linejoin="round"/>
<path d="M662.16,469.07 L656.42,468.63 L656.42,482.63 L662.16,483.07 Z" fill="#fff" stroke="#000" stroke-width="1.2" stroke-linejoin="round"/>
<path d="M567.78,468.63 L562.04,469.07 L562.04,483.07 L567.78,482.63 Z" fill="#fff" stroke="#000" stroke-width="1.2" stroke-linejoin="round"/>
<path d="M656.42,468.63 L655.59,469.25 L655.59,483.25 L656.42,482.63 Z" fill="#fff" stroke="#000" stroke-width="1.2" stroke-linejoin="round"/>
<path d="M568.61,469.25 L567.78,468.63 L567.78,482.63 L568.61,483.25 Z" fill="#fff" stroke="#000" stroke-width="1.2" stroke-linejoin="round"/>
<path d="M655.59,469.25 L654.71,469.86 L654.71,483.86 L655.59,483.25 Z" fill="#fff" stroke="#000" stroke-width="1.2" stroke-linejoin="round"/>
<path d="M569.49,469.86 L568.61,469.25 L568.61,483.25 L569.49,483.86 Z" fill="#fff" stroke="#000" stroke-width="1.2" stroke-linejoin="round"/>
<path d="M654.71,469.86 L657.76,472.23 L657.76,486.23 L654.71,483.86 Z" fill="#fff" stroke="#000" stroke-width="1.2" stroke-linejoin="round"/>
<path d="M566.44,472.23 L569.49,469.86 L569.49,483.86 L566.44,486.23 Z" fill="#fff" stroke="#000" stroke-width="1.2" stroke-linejoin="round"/>
<path d="M650.15,472.52 L649.08,473.05 L649.08,487.05 L650.15,486.52 Z" fill="#fff" stroke="#000" stroke-width="1.2" stroke-linejoin="round"/>
<path d="M575.12,473.05 L574.05,472.52 L574.05,486.52 L575.12,487.05 Z" fill="#fff" stroke="#000" stroke-width="1.2" stroke-linejoin="round"/>
<path d="M657.76,472.23 L655.61,473.49 L655.61,487.49 L657.76,486.23 Z" fill="#fff" stroke="#000" stroke-width="1.2" stroke-linejoin="round"/>
<path d="M568.59,473.49 L566.44,472.23 L566.44,486.23 L568.59,487.49 Z" fill="#fff" stroke="#000" stroke-width="1.2" stroke-linejoin="round"/>
<path d="M655.61,473.49 L650.15,472.52 L650.15,486.52 L655.61,487.49 Z" fill="#fff" stroke="#000" stroke-width="1.2" stroke-linejoin="round"/>
<path d="M574.05,472.52 L568.59,473.49 L568.59,487.49 L574.05,486.52 Z" fill="#fff" stroke="#000" stroke-width="1.2" stroke-linejoin="round"/>
<path d="M649.08,473.05 L647.98,473.57 L647.98,487.57 L649.08,487.05 Z" fill="#fff" stroke="#000" stroke-width="1.2" stroke-linejoin="round"/>
<path d="M576.22,473.57 L575.12,473.05 L575.12,487.05 L576.22,487.57 Z" fill="#fff" stroke="#000" stroke-width="1.2" stroke-linejoin="round"/>
<path d="M647.98,473.57 L650.00,476.18 L650.00,490.18 L647.98,487.57 Z" fill="#fff" stroke="#000" stroke-width="1.2" stroke-linejoin="round"/>
<path d="M574.20,476.18 L576.22,473.57 L576.22,487.57 L574.20,490.18 Z" fill="#fff" stroke="#000" stroke-width="1.2" stroke-linejoin="round"/>
<path d="M642.42,475.75 L641.16,476.17 L641.16,490.17 L642.42,489.75 Z" fill="#fff" stroke="#000" stroke-width="1.2" stroke-linejoin="round"/>
<path d="M583.04,476.17 L581.78,475.75 L581.78,489.75 L583.04,490.17 Z" fill="#fff" stroke="#000" stroke-width="1.2" stroke-linejoin="round"/>
<path d="M641.16,476.17 L639.86,476.57 L639.86,490.57 L641.16,490.17 Z" fill="#fff" stroke="#000" stroke-width="1.2" stroke-linejoin="round"/>
<path d="M584.34,476.57 L583.04,476.17 L583.04,490.17 L584.34,490.57 Z" fill="#fff" stroke="#000" stroke-width="1.2" stroke-linejoin="round"/>
<path d="M647.38,477.22 L642.42,475.75 L642.42,489.75 L647.38,491.22 Z" fill="#fff" stroke="#000" stroke-width="1.2" stroke-linejoin="round"/>
<path d="M581.78,475.75 L576.82,477.22 L576.82,491.22 L581.78,489.75 Z" fill="#fff" stroke="#000" stroke-width="1.2" stroke-linejoin="round"/>
<path d="M650.00,476.18 L647.38,477.22 L647.38,491.22 L650.00,490.18 Z" fill="#fff" stroke="#000" stroke-width="1.2" stroke-linejoin="round"/>
<path d="M576.82,477.22 L574.20,476.18 L574.20,490.18 L576.82,491.22 Z" fill="#fff" stroke="#000" stroke-width="1.2" stroke-linejoin="round"/>
<path d="M639.86,476.57 L640.79,479.33 L640.79,493.33 L639.86,490.57 Z" fill="#fff" stroke="#000" stroke-width="1.2" stroke-linejoin="round"/>
<path d="M583.41,479.33 L584.34,476.57 L584.34,490.57 L583.41,493.33 Z" fill="#fff" stroke="#000" stroke-width="1.2" stroke-linejoin="round"/>
<path d="M633.53,478.20 L632.11,478.49 L632.11,492.49 L633.53,492.20 Z" fill="#fff" stroke="#000" stroke-width="1.2" stroke-linejoin="round"/>
<path d="M592.09,478.49 L590.67,478.20 L590.67,492.20 L592.09,492.49 Z" fill="#fff" stroke="#000" stroke-width="1.2" stroke-linejoin="round"/>
<path d="M632.11,478.49 L630.68,478.77 L630.68,492.77 L632.11,492.49 Z" fill="#fff" stroke="#000" stroke-width="1.2" stroke-linejoin="round"/>
<path d="M593.52,478.77 L592.09,478.49 L592.09,492.49 L593.52,492.77 Z" fill="#fff" stroke="#000" stroke-width="1.2" stroke-linejoin="round"/>
<path d="M637.79,480.10 L633.53,478.20 L633.53,492.20 L637.79,494.10 Z" fill="#fff" stroke="#000" stroke-width="1.2" stroke-linejoin="round"/>
<path d="M590.67,478.20 L586.41,480.10 L586.41,494.10 L590.67,492.20 Z" fill="#fff" stroke="#000" stroke-width="1.2" stroke-linejoin="round"/>
<path d="M640.79,479.33 L637.79,480.10 L637.79,494.10 L640.79,493.33 Z" fill="#fff" stroke="#000" stroke-width="1.2" stroke-linejoin="round"/>
<path d="M586.41,480.10 L583.41,479.33 L583.41,493.33 L586.41,494.10 Z" fill="#fff" stroke="#000" stroke-width="1.2" stroke-linejoin="round"/>
<path d="M623.81,479.77 L622.30,479.92 L622.30,493.92 L623.81,493.77 Z" fill="#fff" stroke="#000" stroke-width="1.2" stroke-linejoin="round"/>
<path d="M601.90,479.92 L600.39,479.77 L600.39,493.77 L601.90,493.92 Z" fill="#fff" stroke="#000" stroke-width="1.2" stroke-linejoin="round"/>
<path d="M622.30,479.92 L620.79,480.06 L620.79,494.06 L622.30,493.92 Z" fill="#fff" stroke="#000" stroke-width="1.2" stroke-linejoin="round"/>
<path d="M603.41,480.06 L601.90,479.92 L601.90,493.92 L603.41,494.06 Z" fill="#fff" stroke="#000" stroke-width="1.2" stroke-linejoin="round"/>
<path d="M630.68,478.77 L630.47,481.56 L630.47,495.56 L630.68,492.77 Z" fill="#fff" stroke="#000" stroke-width="1.2" stroke-linejoin="round"/>
<path d="M593.73,481.56 L593.52,478.77 L593.52,492.77 L593.73,495.56 Z" fill="#fff" stroke="#000" stroke-width="1.2" stroke-linejoin="round"/>
<path d="M613.64,480.39 L612.10,480.40 L612.10,494.40 L613.64,494.39 Z" fill="#fff" stroke="#000" stroke-width="1.2" stroke-linejoin="round"/>
<path d="M612.10,480.40 L610.56,480.39 L610.56,494.39 L612.10,494.40 Z" fill="#fff" stroke="#000" stroke-width="1.2" stroke-linejoin="round"/>
<path d="M627.22,482.03 L623.81,479.77 L623.81,493.77 L627.22,496.03 Z" fill="#fff" stroke="#000" stroke-width="1.2" stroke-linejoin="round"/>
<path d="M600.39,479.77 L596.98,482.03 L596.98,496.03 L600.39,493.77 Z" fill="#fff" stroke="#000" stroke-width="1.2" stroke-linejoin="round"/>
<path d="M620.79,480.06 L619.44,482.77 L619.44,496.77 L620.79,494.06 Z" fill="#fff" stroke="#000" stroke-width="1.2" stroke-linejoin="round"/>
<path d="M604.76,482.77 L603.41,480.06 L603.41,494.06 L604.76,496.77 Z" fill="#fff" stroke="#000" stroke-width="1.2" stroke-linejoin="round"/>
<path d="M616.06,482.93 L613.64,480.39 L613.64,494.39 L616.06,496.93 Z" fill="#fff" stroke="#000" stroke-width="1.2" stroke-linejoin="round"/>
<path d="M610.56,480.39 L608.14,482.93 L608.14,496.93 L610.56,494.39 Z" fill="#fff" stroke="#000" stroke-width="1.2" stroke-linejoin="round"/>
<path d="M630.47,481.56 L627.22,482.03 L627.22,496.03 L630.47,495.56 Z" fill="#fff" stroke="#000" stroke-width="1.2" stroke-linejoin="round"/>
<path d="M596.98,482.03 L593.73,481.56 L593.73,495.56 L596.98,496.03 Z" fill="#fff" stroke="#000" stroke-width="1.2" stroke-linejoin="round"/>
<path d="M619.44,482.77 L616.06,482.93 L616.06,496.93 L619.44,496.77 Z" fill="#fff" stroke="#000" stroke-width="1.2" stroke-linejoin="round"/>
<path d="M608.14,482.93 L604.76,482.77 L604.76,496.77 L608.14,496.93 Z" fill="#fff" stroke="#000" stroke-width="1.2" stroke-linejoin="round"/>
<path d="M664.40,455.30 L664.38,456.04 L669.66,457.20 L669.33,458.83 L663.67,459.47 L663.40,460.20 L663.07,460.92 L667.78,462.56 L666.80,464.12 L660.99,464.22 L660.42,464.91 L659.81,465.59 L663.77,467.63 L662.16,469.07 L656.42,468.63 L655.59,469.25 L654.71,469.86 L657.76,472.23 L655.61,473.49 L650.15,472.52 L649.08,473.05 L647.98,473.57 L650.00,476.18 L647.38,477.22 L642.42,475.75 L641.16,476.17 L639.86,476.57 L640.79,479.33 L637.79,480.10 L633.53,478.20 L632.11,478.49 L630.68,478.77 L630.47,481.56 L627.22,482.03 L623.81,479.77 L622.30,479.92 L620.79,480.06 L619.44,482.77 L616.06,482.93 L613.64,480.39 L612.10,480.40 L610.56,480.39 L608.14,482.93 L604.76,482.77 L603.41,480.06 L601.90,479.92 L600.39,479.77 L596.98,482.03 L593.73,481.56 L593.52,478.77 L592.09,478.49 L590.67,478.20 L586.41,480.10 L583.41,479.33 L584.34,476.57 L583.04,476.17 L581.78,475.75 L576.82,477.22 L574.20,476.18 L576.22,473.57 L575.12,473.05 L574.05,472.52 L568.59,473.49 L566.44,472.23 L569.49,469.86 L568.61,469.25 L567.78,468.63 L562.04,469.07 L560.43,467.63 L564.39,465.59 L563.78,464.91 L563.21,464.22 L557.40,464.12 L556.42,462.56 L561.13,460.92 L560.80,460.20 L560.53,459.47 L554.87,458.83 L554.54,457.20 L559.82,456.04 L559.80,455.30 L559.82,454.56 L554.54,453.40 L554.87,451.77 L560.53,451.13 L560.80,450.40 L561.13,449.68 L556.42,448.04 L557.40,446.48 L563.21,446.38 L563.78,445.69 L564.39,445.01 L560.43,442.97 L562.04,441.53 L567.78,441.97 L568.61,441.35 L569.49,440.74 L566.44,438.37 L568.59,437.11 L574.05,438.08 L575.12,437.55 L576.22,437.03 L574.20,434.42 L576.82,433.38 L581.78,434.85 L583.04,434.43 L584.34,434.03 L583.41,431.27 L586.41,430.50 L590.67,432.40 L592.09,432.11 L593.52,431.83 L593.73,429.04 L596.98,428.57 L600.39,430.83 L601.90,430.68 L603.41,430.54 L604.76,427.83 L608.14,427.67 L610.56,430.21 L612.10,430.20 L613.64,430.21 L616.06,427.67 L619.44,427.83 L620.79,430.54 L622.30,430.68 L623.81,430.83 L627.22,428.57 L630.47,429.04 L630.68,431.83 L632.11,432.11 L633.53,432.40 L637.79,430.50 L640.79,431.27 L639.86,434.03 L641.16,434.43 L642.42,434.85 L647.38,433.38 L650.00,434.42 L647.98,437.03 L649.08,437.55 L650.15,438.08 L655.61,437.11 L657.76,438.37 L654.71,440.74 L655.59,441.35 L656.42,441.97 L662.16,441.53 L663.77,442.97 L659.81,445.01 L660.42,445.69 L660.99,446.38 L666.80,446.48 L667.78,448.04 L663.07,449.68 L663.40,450.40 L663.67,451.13 L669.33,451.77 L669.66,453.40 L664.38,454.56 Z" fill="#fff" stroke="#000" stroke-width="1.7" stroke-linejoin="round"/>
<ellipse cx="612.5" cy="457.2" rx="27.2" ry="14.5" fill="none" stroke="#000" stroke-width="1.8"/>
<path d="M591.6,461.6 A21,10 0 0 1 633.6,461.6" fill="none" stroke="#000" stroke-width="1.8" stroke-linejoin="round" stroke-linecap="round" />
<path d="M592,463 A20.5,9 0 0 0 633.2,463" fill="none" stroke="#000" stroke-width="1.4" stroke-linejoin="round" stroke-linecap="round" />
<ellipse cx="612.7" cy="462" rx="19" ry="8.8" fill="none" stroke="#000" stroke-width="1.6"/>
<path d="M601.7,465 L605,460 L621,460 L623.2,465 L619,469.5 L606,469.5 Z M611.5,460 L611.5,469.5" fill="none" stroke="#000" stroke-width="1.4" stroke-linejoin="round" stroke-linecap="round" />
<path d="M489.67,463.88 L494.24,463.36 L494.24,481.36 L489.67,481.88 Z" fill="#fff" stroke="#000" stroke-width="1.2" stroke-linejoin="round"/>
<path d="M538.14,463.44 L538.64,464.97 L538.64,482.97 L538.14,481.44 Z" fill="#fff" stroke="#000" stroke-width="1.2" stroke-linejoin="round"/>
<path d="M489.31,465.41 L489.67,463.88 L489.67,481.88 L489.31,483.41 Z" fill="#fff" stroke="#000" stroke-width="1.2" stroke-linejoin="round"/>
<path d="M538.64,464.97 L534.49,465.94 L534.49,483.94 L538.64,482.97 Z" fill="#fff" stroke="#000" stroke-width="1.2" stroke-linejoin="round"/>
<path d="M493.55,466.31 L489.31,465.41 L489.31,483.41 L493.55,484.31 Z" fill="#fff" stroke="#000" stroke-width="1.2" stroke-linejoin="round"/>
<path d="M534.49,465.94 L534.40,466.58 L534.40,484.58 L534.49,483.94 Z" fill="#fff" stroke="#000" stroke-width="1.2" stroke-linejoin="round"/>
<path d="M493.71,466.94 L493.55,466.31 L493.55,484.31 L493.71,484.94 Z" fill="#fff" stroke="#000" stroke-width="1.2" stroke-linejoin="round"/>
<path d="M534.40,466.58 L534.20,467.21 L534.20,485.21 L534.40,484.58 Z" fill="#fff" stroke="#000" stroke-width="1.2" stroke-linejoin="round"/>
<path d="M493.97,467.57 L493.71,466.94 L493.71,484.94 L493.97,485.57 Z" fill="#fff" stroke="#000" stroke-width="1.2" stroke-linejoin="round"/>
<path d="M534.20,467.21 L537.81,468.52 L537.81,486.52 L534.20,485.21 Z" fill="#fff" stroke="#000" stroke-width="1.2" stroke-linejoin="round"/>
<path d="M490.48,468.95 L493.97,467.57 L493.97,485.57 L490.48,486.95 Z" fill="#fff" stroke="#000" stroke-width="1.2" stroke-linejoin="round"/>
<path d="M537.81,468.52 L536.61,469.97 L536.61,487.97 L537.81,486.52 Z" fill="#fff" stroke="#000" stroke-width="1.2" stroke-linejoin="round"/>
<path d="M491.82,470.38 L490.48,468.95 L490.48,486.95 L491.82,488.38 Z" fill="#fff" stroke="#000" stroke-width="1.2" stroke-linejoin="round"/>
<path d="M536.61,469.97 L531.88,470.01 L531.88,488.01 L536.61,487.97 Z" fill="#fff" stroke="#000" stroke-width="1.2" stroke-linejoin="round"/>
<path d="M531.88,470.01 L531.11,470.56 L531.11,488.56 L531.88,488.01 Z" fill="#fff" stroke="#000" stroke-width="1.2" stroke-linejoin="round"/>
<path d="M496.55,470.33 L491.82,470.38 L491.82,488.38 L496.55,488.33 Z" fill="#fff" stroke="#000" stroke-width="1.2" stroke-linejoin="round"/>
<path d="M497.38,470.86 L496.55,470.33 L496.55,488.33 L497.38,488.86 Z" fill="#fff" stroke="#000" stroke-width="1.2" stroke-linejoin="round"/>
<path d="M531.11,470.56 L530.25,471.08 L530.25,489.08 L531.11,488.56 Z" fill="#fff" stroke="#000" stroke-width="1.2" stroke-linejoin="round"/>
<path d="M498.29,471.36 L497.38,470.86 L497.38,488.86 L498.29,489.36 Z" fill="#fff" stroke="#000" stroke-width="1.2" stroke-linejoin="round"/>
<path d="M530.25,471.08 L532.03,472.96 L532.03,490.96 L530.25,489.08 Z" fill="#fff" stroke="#000" stroke-width="1.2" stroke-linejoin="round"/>
<path d="M496.69,473.28 L498.29,471.36 L498.29,489.36 L496.69,491.28 Z" fill="#fff" stroke="#000" stroke-width="1.2" stroke-linejoin="round"/>
<path d="M525.18,473.09 L523.90,473.42 L523.90,491.42 L525.18,491.09 Z" fill="#fff" stroke="#000" stroke-width="1.2" stroke-linejoin="round"/>
<path d="M504.85,473.59 L503.55,473.28 L503.55,491.28 L504.85,491.59 Z" fill="#fff" stroke="#000" stroke-width="1.2" stroke-linejoin="round"/>
<path d="M532.03,472.96 L529.40,474.00 L529.40,492.00 L532.03,490.96 Z" fill="#fff" stroke="#000" stroke-width="1.2" stroke-linejoin="round"/>
<path d="M529.40,474.00 L525.18,473.09 L525.18,491.09 L529.40,492.00 Z" fill="#fff" stroke="#000" stroke-width="1.2" stroke-linejoin="round"/>
<path d="M523.90,473.42 L522.58,473.71 L522.58,491.71 L523.90,491.42 Z" fill="#fff" stroke="#000" stroke-width="1.2" stroke-linejoin="round"/>
<path d="M506.21,473.85 L504.85,473.59 L504.85,491.59 L506.21,491.85 Z" fill="#fff" stroke="#000" stroke-width="1.2" stroke-linejoin="round"/>
<path d="M499.42,474.27 L496.69,473.28 L496.69,491.28 L499.42,492.27 Z" fill="#fff" stroke="#000" stroke-width="1.2" stroke-linejoin="round"/>
<path d="M503.55,473.28 L499.42,474.27 L499.42,492.27 L503.55,491.28 Z" fill="#fff" stroke="#000" stroke-width="1.2" stroke-linejoin="round"/>
<path d="M515.91,474.48 L514.43,474.51 L514.43,492.51 L515.91,492.48 Z" fill="#fff" stroke="#000" stroke-width="1.2" stroke-linejoin="round"/>
<path d="M514.43,474.51 L512.94,474.50 L512.94,492.50 L514.43,492.51 Z" fill="#fff" stroke="#000" stroke-width="1.2" stroke-linejoin="round"/>
<path d="M522.58,473.71 L522.12,475.73 L522.12,493.73 L522.58,491.71 Z" fill="#fff" stroke="#000" stroke-width="1.2" stroke-linejoin="round"/>
<path d="M506.86,475.87 L506.21,473.85 L506.21,491.85 L506.86,493.87 Z" fill="#fff" stroke="#000" stroke-width="1.2" stroke-linejoin="round"/>
<path d="M518.66,476.13 L515.91,474.48 L515.91,492.48 L518.66,494.13 Z" fill="#fff" stroke="#000" stroke-width="1.2" stroke-linejoin="round"/>
<path d="M512.94,474.50 L510.35,476.20 L510.35,494.20 L512.94,492.50 Z" fill="#fff" stroke="#000" stroke-width="1.2" stroke-linejoin="round"/>
<path d="M522.12,475.73 L518.66,476.13 L518.66,494.13 L522.12,493.73 Z" fill="#fff" stroke="#000" stroke-width="1.2" stroke-linejoin="round"/>
<path d="M510.35,476.20 L506.86,475.87 L506.86,493.87 L510.35,494.20 Z" fill="#fff" stroke="#000" stroke-width="1.2" stroke-linejoin="round"/>
<path d="M534.40,466.58 L534.20,467.21 L537.81,468.52 L536.61,469.97 L531.88,470.01 L531.11,470.56 L530.25,471.08 L532.03,472.96 L529.40,474.00 L525.18,473.09 L523.90,473.42 L522.58,473.71 L522.12,475.73 L518.66,476.13 L515.91,474.48 L514.43,474.51 L512.94,474.50 L510.35,476.20 L506.86,475.87 L506.21,473.85 L504.85,473.59 L503.55,473.28 L499.42,474.27 L496.69,473.28 L498.29,471.36 L497.38,470.86 L496.55,470.33 L491.82,470.38 L490.48,468.95 L493.97,467.57 L493.71,466.94 L493.55,466.31 L489.31,465.41 L489.67,463.88 L494.24,463.36 L494.68,462.75 L495.23,462.15 L492.45,460.51 L494.42,459.22 L499.04,459.68 L500.09,459.23 L501.22,458.81 L500.53,456.80 L503.67,456.05 L507.26,457.37 L508.68,457.19 L510.13,457.04 L511.70,455.13 L515.28,455.09 L517.03,456.98 L518.49,457.10 L519.93,457.26 L523.39,455.88 L526.59,456.56 L526.10,458.59 L527.27,458.98 L528.37,459.41 L532.93,458.88 L535.03,460.13 L532.41,461.82 L533.01,462.40 L533.52,463.00 L538.14,463.44 L538.64,464.97 L534.49,465.94 Z" fill="#fff" stroke="#000" stroke-width="1.7" stroke-linejoin="round"/>
<ellipse cx="514" cy="469.2" rx="5.4" ry="3.6" fill="none" stroke="#000" stroke-width="1.6"/>
<path d="M514,465.6 L514,472.8" fill="none" stroke="#000" stroke-width="1.4" stroke-linejoin="round" stroke-linecap="round" />
<path d="M521,414.5 C517,411.8 513,411.3 509.5,411.3 C504,411.3 501.2,413.5 501.2,416.5 C501.2,420 505,422 510,422.5 L512,424 L515,423 L514.5,421.5 C518,420.5 520,419.5 522,419.5 L524.7,419.5 L524.7,415 Z" fill="#fff" stroke="#000" stroke-width="1.5" stroke-linejoin="round" stroke-linecap="round" />
<path d="M519.5,416 C517,414 513,413.5 510,413.5 C506.5,413.5 504.5,414.8 504.5,416.5 C504.5,418.5 507,419.8 510.5,419.8 C514,419.8 516,419 518.5,417.5" fill="none" stroke="#000" stroke-width="1.3" stroke-linejoin="round" stroke-linecap="round" />
<path d="M601.3,525 L601.3,539 C604,542.3 609,543.6 614,543.6 C619,543.6 624,542.3 626.7,539 L626.7,525" fill="#fff" stroke="#000" stroke-width="2" stroke-linejoin="round" stroke-linecap="round" />
<path d="M598,519.4 L598,523 C600,527 606,528.8 613.3,528.8 C620,528.8 627,527 628.6,523 L628.6,519.4" fill="#fff" stroke="#000" stroke-width="2" stroke-linejoin="round" stroke-linecap="round" />
<ellipse cx="613.3" cy="519.4" rx="15.3" ry="6.3" fill="#fff" stroke="#000" stroke-width="2"/>
<ellipse cx="613.5" cy="519" rx="8.2" ry="3.8" fill="none" stroke="#000" stroke-width="2"/>
<path d="M608,520.5 L618,520.5" fill="none" stroke="#000" stroke-width="1.6" stroke-linejoin="round" stroke-linecap="round" />
<path d="M211.5,498 L211.5,516 C213,520 214,524 216,527 L221,529 L224,526 L228,530 L233,531 L236,528 L240,532 L251,532 L254,528 L258,531 L263,530 L266,526 L270,528 L275,526 C278,522 281,519 282,516 L282,498" fill="#fff" stroke="#000" stroke-width="2" stroke-linejoin="round" stroke-linecap="round" />
<path d="M212,515 C222,523 270,523 282,515" fill="none" stroke="#000" stroke-width="1.6" stroke-linejoin="round" stroke-linecap="round" />
<path d="M212,502 C222,510 270,510 282,502" fill="none" stroke="#000" stroke-width="1.2" stroke-linejoin="round" stroke-linecap="round" />
<path d="M219,507 L222,512" fill="none" stroke="#000" stroke-width="1.5" stroke-linejoin="round" stroke-linecap="round" />
<path d="M230,510 L233,514" fill="none" stroke="#000" stroke-width="1.5" stroke-linejoin="round" stroke-linecap="round" />
<path d="M244,511 L247,516" fill="none" stroke="#000" stroke-width="1.5" stroke-linejoin="round" stroke-linecap="round" />
<path d="M258,512 L261,508" fill="none" stroke="#000" stroke-width="1.5" stroke-linejoin="round" stroke-linecap="round" />
<path d="M270,506 L273,510" fill="none" stroke="#000" stroke-width="1.5" stroke-linejoin="round" stroke-linecap="round" />
<path d="M226,518 L227,522" fill="none" stroke="#000" stroke-width="1.5" stroke-linejoin="round" stroke-linecap="round" />
<path d="M262,518 L264,521" fill="none" stroke="#000" stroke-width="1.5" stroke-linejoin="round" stroke-linecap="round" />
<path d="M236,505 L240,507" fill="none" stroke="#000" stroke-width="1.5" stroke-linejoin="round" stroke-linecap="round" />
<path d="M252,506 L256,505" fill="none" stroke="#000" stroke-width="1.5" stroke-linejoin="round" stroke-linecap="round" />
<path d="M216,512 L218,516" fill="none" stroke="#000" stroke-width="1.5" stroke-linejoin="round" stroke-linecap="round" />
<path d="M276,512 L278,509" fill="none" stroke="#000" stroke-width="1.5" stroke-linejoin="round" stroke-linecap="round" />
<path d="M239,531 L239,538 L251.5,538 L251.5,531" fill="#fff" stroke="#000" stroke-width="1.8" stroke-linejoin="round" stroke-linecap="round" />
<path d="M207.6,405 L207.6,487 C215,495 232,499 245.75,499 C260,499 276,495 283.9,487 L283.9,405" fill="#fff" stroke="#000" stroke-width="2.2" stroke-linejoin="round" stroke-linecap="round" />
<rect x="212.90" y="420" width="3.40" height="73.35" fill="#000"/>
<rect x="226.70" y="420" width="3.80" height="76.83" fill="#000"/>
<rect x="238.20" y="420" width="4.20" height="77.89" fill="#000"/>
<rect x="253.30" y="420" width="4.00" height="77.65" fill="#000"/>
<rect x="268.30" y="420" width="3.60" height="75.47" fill="#000"/>
<rect x="277.60" y="420" width="3.00" height="72.34" fill="#000"/>
<path d="M209.30,421 L209.30,491.28 M211.90,421 L211.90,491.28" fill="none" stroke="#000" stroke-width="1.1" stroke-linejoin="round" stroke-linecap="round" />
<path d="M209.30,426.3 L210.60,427.1" fill="none" stroke="#000" stroke-width="1.5" stroke-linejoin="round" stroke-linecap="round" />
<path d="M209.30,434.1 L210.60,434.9" fill="none" stroke="#000" stroke-width="1.5" stroke-linejoin="round" stroke-linecap="round" />
<path d="M209.30,441.9 L210.60,442.7" fill="none" stroke="#000" stroke-width="1.5" stroke-linejoin="round" stroke-linecap="round" />
<path d="M209.30,449.7 L210.60,450.5" fill="none" stroke="#000" stroke-width="1.5" stroke-linejoin="round" stroke-linecap="round" />
<path d="M209.30,457.5 L210.60,458.3" fill="none" stroke="#000" stroke-width="1.5" stroke-linejoin="round" stroke-linecap="round" />
<path d="M209.30,465.3 L210.60,466.1" fill="none" stroke="#000" stroke-width="1.5" stroke-linejoin="round" stroke-linecap="round" />
<path d="M209.30,473.1 L210.60,473.9" fill="none" stroke="#000" stroke-width="1.5" stroke-linejoin="round" stroke-linecap="round" />
<path d="M209.30,480.9 L210.60,481.7" fill="none" stroke="#000" stroke-width="1.5" stroke-linejoin="round" stroke-linecap="round" />
<path d="M217.30,421 L217.30,495.49 M225.70,421 L225.70,495.49" fill="none" stroke="#000" stroke-width="1.1" stroke-linejoin="round" stroke-linecap="round" />
<path d="M217.30,425.6 L221.50,426.4" fill="none" stroke="#000" stroke-width="1.5" stroke-linejoin="round" stroke-linecap="round" />
<path d="M217.30,433.4 L221.50,434.2" fill="none" stroke="#000" stroke-width="1.5" stroke-linejoin="round" stroke-linecap="round" />
<path d="M217.30,441.2 L221.50,442.0" fill="none" stroke="#000" stroke-width="1.5" stroke-linejoin="round" stroke-linecap="round" />
<path d="M217.30,449.0 L221.50,449.8" fill="none" stroke="#000" stroke-width="1.5" stroke-linejoin="round" stroke-linecap="round" />
<path d="M217.30,456.8 L221.50,457.6" fill="none" stroke="#000" stroke-width="1.5" stroke-linejoin="round" stroke-linecap="round" />
<path d="M217.30,464.6 L221.50,465.4" fill="none" stroke="#000" stroke-width="1.5" stroke-linejoin="round" stroke-linecap="round" />
<path d="M217.30,472.4 L221.50,473.2" fill="none" stroke="#000" stroke-width="1.5" stroke-linejoin="round" stroke-linecap="round" />
<path d="M217.30,480.2 L221.50,481.0" fill="none" stroke="#000" stroke-width="1.5" stroke-linejoin="round" stroke-linecap="round" />
<path d="M217.30,488.0 L221.50,488.8" fill="none" stroke="#000" stroke-width="1.5" stroke-linejoin="round" stroke-linecap="round" />
<path d="M231.50,421 L231.50,497.50 M237.20,421 L237.20,497.50" fill="none" stroke="#000" stroke-width="1.1" stroke-linejoin="round" stroke-linecap="round" />
<path d="M231.50,427.6 L234.35,428.4" fill="none" stroke="#000" stroke-width="1.5" stroke-linejoin="round" stroke-linecap="round" />
<path d="M231.50,435.4 L234.35,436.2" fill="none" stroke="#000" stroke-width="1.5" stroke-linejoin="round" stroke-linecap="round" />
<path d="M231.50,443.2 L234.35,444.0" fill="none" stroke="#000" stroke-width="1.5" stroke-linejoin="round" stroke-linecap="round" />
<path d="M231.50,451.0 L234.35,451.8" fill="none" stroke="#000" stroke-width="1.5" stroke-linejoin="round" stroke-linecap="round" />
<path d="M231.50,458.8 L234.35,459.6" fill="none" stroke="#000" stroke-width="1.5" stroke-linejoin="round" stroke-linecap="round" />
<path d="M231.50,466.6 L234.35,467.4" fill="none" stroke="#000" stroke-width="1.5" stroke-linejoin="round" stroke-linecap="round" />
<path d="M231.50,474.4 L234.35,475.2" fill="none" stroke="#000" stroke-width="1.5" stroke-linejoin="round" stroke-linecap="round" />
<path d="M231.50,482.2 L234.35,483.0" fill="none" stroke="#000" stroke-width="1.5" stroke-linejoin="round" stroke-linecap="round" />
<path d="M231.50,490.0 L234.35,490.8" fill="none" stroke="#000" stroke-width="1.5" stroke-linejoin="round" stroke-linecap="round" />
<path d="M243.40,421 L243.40,497.98 M252.30,421 L252.30,497.98" fill="none" stroke="#000" stroke-width="1.1" stroke-linejoin="round" stroke-linecap="round" />
<path d="M243.40,425.3 L247.85,426.1" fill="none" stroke="#000" stroke-width="1.5" stroke-linejoin="round" stroke-linecap="round" />
<path d="M243.40,433.1 L247.85,433.9" fill="none" stroke="#000" stroke-width="1.5" stroke-linejoin="round" stroke-linecap="round" />
<path d="M243.40,440.9 L247.85,441.7" fill="none" stroke="#000" stroke-width="1.5" stroke-linejoin="round" stroke-linecap="round" />
<path d="M243.40,448.7 L247.85,449.5" fill="none" stroke="#000" stroke-width="1.5" stroke-linejoin="round" stroke-linecap="round" />
<path d="M243.40,456.5 L247.85,457.3" fill="none" stroke="#000" stroke-width="1.5" stroke-linejoin="round" stroke-linecap="round" />
<path d="M243.40,464.3 L247.85,465.1" fill="none" stroke="#000" stroke-width="1.5" stroke-linejoin="round" stroke-linecap="round" />
<path d="M243.40,472.1 L247.85,472.9" fill="none" stroke="#000" stroke-width="1.5" stroke-linejoin="round" stroke-linecap="round" />
<path d="M243.40,479.9 L247.85,480.7" fill="none" stroke="#000" stroke-width="1.5" stroke-linejoin="round" stroke-linecap="round" />
<path d="M243.40,487.7 L247.85,488.5" fill="none" stroke="#000" stroke-width="1.5" stroke-linejoin="round" stroke-linecap="round" />
<path d="M258.30,421 L258.30,496.84 M267.30,421 L267.30,496.84" fill="none" stroke="#000" stroke-width="1.1" stroke-linejoin="round" stroke-linecap="round" />
<path d="M258.30,427.1 L262.80,427.9" fill="none" stroke="#000" stroke-width="1.5" stroke-linejoin="round" stroke-linecap="round" />
<path d="M258.30,434.9 L262.80,435.7" fill="none" stroke="#000" stroke-width="1.5" stroke-linejoin="round" stroke-linecap="round" />
<path d="M258.30,442.7 L262.80,443.5" fill="none" stroke="#000" stroke-width="1.5" stroke-linejoin="round" stroke-linecap="round" />
<path d="M258.30,450.5 L262.80,451.3" fill="none" stroke="#000" stroke-width="1.5" stroke-linejoin="round" stroke-linecap="round" />
<path d="M258.30,458.3 L262.80,459.1" fill="none" stroke="#000" stroke-width="1.5" stroke-linejoin="round" stroke-linecap="round" />
<path d="M258.30,466.1 L262.80,466.9" fill="none" stroke="#000" stroke-width="1.5" stroke-linejoin="round" stroke-linecap="round" />
<path d="M258.30,473.9 L262.80,474.7" fill="none" stroke="#000" stroke-width="1.5" stroke-linejoin="round" stroke-linecap="round" />
<path d="M258.30,481.7 L262.80,482.5" fill="none" stroke="#000" stroke-width="1.5" stroke-linejoin="round" stroke-linecap="round" />
<path d="M258.30,489.5 L262.80,490.3" fill="none" stroke="#000" stroke-width="1.5" stroke-linejoin="round" stroke-linecap="round" />
<path d="M272.90,421 L272.90,494.15 M276.60,421 L276.60,494.15" fill="none" stroke="#000" stroke-width="1.1" stroke-linejoin="round" stroke-linecap="round" />
<path d="M272.90,426.5 L274.75,427.3" fill="none" stroke="#000" stroke-width="1.5" stroke-linejoin="round" stroke-linecap="round" />
<path d="M272.90,434.3 L274.75,435.1" fill="none" stroke="#000" stroke-width="1.5" stroke-linejoin="round" stroke-linecap="round" />
<path d="M272.90,442.1 L274.75,442.9" fill="none" stroke="#000" stroke-width="1.5" stroke-linejoin="round" stroke-linecap="round" />
<path d="M272.90,449.9 L274.75,450.7" fill="none" stroke="#000" stroke-width="1.5" stroke-linejoin="round" stroke-linecap="round" />
<path d="M272.90,457.7 L274.75,458.5" fill="none" stroke="#000" stroke-width="1.5" stroke-linejoin="round" stroke-linecap="round" />
<path d="M272.90,465.5 L274.75,466.3" fill="none" stroke="#000" stroke-width="1.5" stroke-linejoin="round" stroke-linecap="round" />
<path d="M272.90,473.3 L274.75,474.1" fill="none" stroke="#000" stroke-width="1.5" stroke-linejoin="round" stroke-linecap="round" />
<path d="M272.90,481.1 L274.75,481.9" fill="none" stroke="#000" stroke-width="1.5" stroke-linejoin="round" stroke-linecap="round" />
<path d="M272.90,488.9 L274.75,489.7" fill="none" stroke="#000" stroke-width="1.5" stroke-linejoin="round" stroke-linecap="round" />
<path d="M281.60,421 L281.60,490.47 M282.30,421 L282.30,490.47" fill="none" stroke="#000" stroke-width="1.1" stroke-linejoin="round" stroke-linecap="round" />
<path d="M281.60,425.2 L281.95,426.0" fill="none" stroke="#000" stroke-width="1.5" stroke-linejoin="round" stroke-linecap="round" />
<path d="M281.60,433.0 L281.95,433.8" fill="none" stroke="#000" stroke-width="1.5" stroke-linejoin="round" stroke-linecap="round" />
<path d="M281.60,440.8 L281.95,441.6" fill="none" stroke="#000" stroke-width="1.5" stroke-linejoin="round" stroke-linecap="round" />
<path d="M281.60,448.6 L281.95,449.4" fill="none" stroke="#000" stroke-width="1.5" stroke-linejoin="round" stroke-linecap="round" />
<path d="M281.60,456.4 L281.95,457.2" fill="none" stroke="#000" stroke-width="1.5" stroke-linejoin="round" stroke-linecap="round" />
<path d="M281.60,464.2 L281.95,465.0" fill="none" stroke="#000" stroke-width="1.5" stroke-linejoin="round" stroke-linecap="round" />
<path d="M281.60,472.0 L281.95,472.8" fill="none" stroke="#000" stroke-width="1.5" stroke-linejoin="round" stroke-linecap="round" />
<path d="M281.60,479.8 L281.95,480.6" fill="none" stroke="#000" stroke-width="1.5" stroke-linejoin="round" stroke-linecap="round" />
<path d="M207.1,404 C208,397 211,393 213.6,392.9 C218,390 222,388.6 237,388.1 L254,388.1 C268,388.6 276,391 279,394 C282,397 283.9,400 283.9,404 L283.9,414 C276,421 262,424 245.75,424 C229,424 214,421 207.1,414 Z" fill="#fff" stroke="#000" stroke-width="2.2" stroke-linejoin="round" stroke-linecap="round" />
<path d="M266.2,411.7 q2.6,-3.0 5.2,-3.0" fill="none" stroke="#000" stroke-width="1.4" stroke-linejoin="round" stroke-linecap="round" />
<path d="M250.6,418.4 q3.6,-0.6 7.2,0.6" fill="none" stroke="#000" stroke-width="1.4" stroke-linejoin="round" stroke-linecap="round" />
<path d="M217.3,415.3 q-3.6,-2.9 -7.3,2.9" fill="none" stroke="#000" stroke-width="1.4" stroke-linejoin="round" stroke-linecap="round" />
<path d="M241.9,412.6 q-3.1,-1.5 -6.1,-1.5" fill="none" stroke="#000" stroke-width="1.4" stroke-linejoin="round" stroke-linecap="round" />
<path d="M220.3,399.8 q-1.0,-0.4 -2.0,0.4" fill="none" stroke="#000" stroke-width="1.4" stroke-linejoin="round" stroke-linecap="round" />
<path d="M256.7,408.0 q-2.4,-1.4 -4.7,1.4" fill="none" stroke="#000" stroke-width="1.4" stroke-linejoin="round" stroke-linecap="round" />
<path d="M226.6,410.1 q0.7,-0.4 1.4,-0.4" fill="none" stroke="#000" stroke-width="1.4" stroke-linejoin="round" stroke-linecap="round" />
<path d="M235.8,419.3 q1.6,-2.0 3.2,-2.0" fill="none" stroke="#000" stroke-width="1.4" stroke-linejoin="round" stroke-linecap="round" />
<path d="M221.9,400.8 q3.0,-1.8 6.0,1.8" fill="none" stroke="#000" stroke-width="1.4" stroke-linejoin="round" stroke-linecap="round" />
<path d="M237.3,421.0 q-3.1,-0.7 -6.1,-0.7" fill="none" stroke="#000" stroke-width="1.4" stroke-linejoin="round" stroke-linecap="round" />
<path d="M230.1,394.0 q0.6,-3.0 1.2,3.0" fill="none" stroke="#000" stroke-width="1.4" stroke-linejoin="round" stroke-linecap="round" />
<path d="M233.9,418.1 q0.8,-0.6 1.5,0.6" fill="none" stroke="#000" stroke-width="1.4" stroke-linejoin="round" stroke-linecap="round" />
<path d="M213.8,409.9 q3.6,-0.2 7.1,-0.2" fill="none" stroke="#000" stroke-width="1.4" stroke-linejoin="round" stroke-linecap="round" />
<path d="M278.6,405.4 q-1.7,-0.9 -3.4,-0.9" fill="none" stroke="#000" stroke-width="1.4" stroke-linejoin="round" stroke-linecap="round" />
<path d="M229.6,407.7 q-3.1,-3.5 -6.1,-3.5" fill="none" stroke="#000" stroke-width="1.4" stroke-linejoin="round" stroke-linecap="round" />
<path d="M246.1,416.1 q3.0,-3.4 5.9,-3.4" fill="none" stroke="#000" stroke-width="1.4" stroke-linejoin="round" stroke-linecap="round" />
<path d="M219.8,409.7 q3.1,-2.6 6.1,2.6" fill="none" stroke="#000" stroke-width="1.4" stroke-linejoin="round" stroke-linecap="round" />
<path d="M259.1,399.4 q-0.7,-1.1 -1.4,-1.1" fill="none" stroke="#000" stroke-width="1.4" stroke-linejoin="round" stroke-linecap="round" />
<path d="M272.1,395.8 q-2.8,-2.6 -5.6,-2.6" fill="none" stroke="#000" stroke-width="1.4" stroke-linejoin="round" stroke-linecap="round" />
<path d="M247.9,414.1 q-0.1,-0.7 -0.2,0.7" fill="none" stroke="#000" stroke-width="1.4" stroke-linejoin="round" stroke-linecap="round" />
<path d="M225.8,410.8 q0.5,-3.6 1.1,3.6" fill="none" stroke="#000" stroke-width="1.4" stroke-linejoin="round" stroke-linecap="round" />
<path d="M223.6,397.3 q-3.6,-3.2 -7.1,3.2" fill="none" stroke="#000" stroke-width="1.4" stroke-linejoin="round" stroke-linecap="round" />
<path d="M262.2,409.2 q-2.7,-1.3 -5.4,-1.3" fill="none" stroke="#000" stroke-width="1.4" stroke-linejoin="round" stroke-linecap="round" />
<path d="M253.8,410.9 q-1.1,-3.8 -2.2,-3.8" fill="none" stroke="#000" stroke-width="1.4" stroke-linejoin="round" stroke-linecap="round" />
<path d="M266.0,397.2 q-2.8,-2.0 -5.6,-2.0" fill="none" stroke="#000" stroke-width="1.4" stroke-linejoin="round" stroke-linecap="round" />
<path d="M232.7,414.0 q-3.0,-2.8 -6.0,2.8" fill="none" stroke="#000" stroke-width="1.4" stroke-linejoin="round" stroke-linecap="round" />
<path d="M271.1,405.5 q-0.1,-3.3 -0.3,-3.3" fill="none" stroke="#000" stroke-width="1.4" stroke-linejoin="round" stroke-linecap="round" />
<path d="M263.5,411.7 q-1.9,-2.6 -3.8,2.6" fill="none" stroke="#000" stroke-width="1.4" stroke-linejoin="round" stroke-linecap="round" />
<path d="M271.3,402.5 q-2.8,-0.3 -5.7,0.3" fill="none" stroke="#000" stroke-width="1.4" stroke-linejoin="round" stroke-linecap="round" />
<path d="M272.2,408.0 q3.8,-2.9 7.7,2.9" fill="none" stroke="#000" stroke-width="1.4" stroke-linejoin="round" stroke-linecap="round" />
<path d="M234.7,411.3 q2.2,-0.3 4.4,0.3" fill="none" stroke="#000" stroke-width="1.4" stroke-linejoin="round" stroke-linecap="round" />
<path d="M251.3,419.9 q3.9,-2.8 7.8,2.8" fill="none" stroke="#000" stroke-width="1.4" stroke-linejoin="round" stroke-linecap="round" />
<path d="M257.1,392.7 q1.9,-2.2 3.8,-2.2" fill="none" stroke="#000" stroke-width="1.4" stroke-linejoin="round" stroke-linecap="round" />
<path d="M223.4,404.9 q-3.8,-3.8 -7.5,-3.8" fill="none" stroke="#000" stroke-width="1.4" stroke-linejoin="round" stroke-linecap="round" />
<path d="M242.1,414.4 q1.5,-3.7 3.1,3.7" fill="none" stroke="#000" stroke-width="1.4" stroke-linejoin="round" stroke-linecap="round" />
<path d="M212.7,410.9 q3.9,-3.6 7.8,3.6" fill="none" stroke="#000" stroke-width="1.4" stroke-linejoin="round" stroke-linecap="round" />
<path d="M233.6,412.0 q-2.2,-2.4 -4.4,-2.4" fill="none" stroke="#000" stroke-width="1.4" stroke-linejoin="round" stroke-linecap="round" />
<path d="M253.9,418.0 q3.2,-2.7 6.4,2.7" fill="none" stroke="#000" stroke-width="1.4" stroke-linejoin="round" stroke-linecap="round" />
<path d="M216.4,407.6 q2.4,-3.3 4.8,-3.3" fill="none" stroke="#000" stroke-width="1.4" stroke-linejoin="round" stroke-linecap="round" />
<path d="M227.4,393.4 q2.3,-2.0 4.5,2.0" fill="none" stroke="#000" stroke-width="1.4" stroke-linejoin="round" stroke-linecap="round" />
<path d="M228.9,407.0 q2.3,-1.3 4.6,-1.3" fill="none" stroke="#000" stroke-width="1.4" stroke-linejoin="round" stroke-linecap="round" />
<path d="M256.9,391.4 q-0.8,-0.8 -1.7,-0.8" fill="none" stroke="#000" stroke-width="1.4" stroke-linejoin="round" stroke-linecap="round" />
<path d="M275.0,401.6 q-2.6,-3.0 -5.3,-3.0" fill="none" stroke="#000" stroke-width="1.4" stroke-linejoin="round" stroke-linecap="round" />
<path d="M265.8,418.1 q2.5,-2.8 4.9,-2.8" fill="none" stroke="#000" stroke-width="1.4" stroke-linejoin="round" stroke-linecap="round" />
<path d="M262.3,392.3 q1.3,-1.2 2.5,-1.2" fill="none" stroke="#000" stroke-width="1.4" stroke-linejoin="round" stroke-linecap="round" />
<path d="M231.3,404.0 q-3.9,-3.8 -7.8,3.8" fill="none" stroke="#000" stroke-width="1.4" stroke-linejoin="round" stroke-linecap="round" />
<path d="M230.0,396.6 q3.5,-0.5 6.9,-0.5" fill="none" stroke="#000" stroke-width="1.4" stroke-linejoin="round" stroke-linecap="round" />
<path d="M268.6,395.7 q-2.3,-2.0 -4.6,-2.0" fill="none" stroke="#000" stroke-width="1.4" stroke-linejoin="round" stroke-linecap="round" />
<path d="M240.7,414.0 q0.7,-1.9 1.4,-1.9" fill="none" stroke="#000" stroke-width="1.4" stroke-linejoin="round" stroke-linecap="round" />
<path d="M232.5,409.2 q3.3,-1.2 6.6,-1.2" fill="none" stroke="#000" stroke-width="1.4" stroke-linejoin="round" stroke-linecap="round" />
<path d="M218.7,409.2 q3.2,-0.6 6.5,-0.6" fill="none" stroke="#000" stroke-width="1.4" stroke-linejoin="round" stroke-linecap="round" />
<path d="M268.5,400.4 q0.3,-0.2 0.5,0.2" fill="none" stroke="#000" stroke-width="1.4" stroke-linejoin="round" stroke-linecap="round" />
<path d="M270.3,407.3 q-2.5,-4.0 -5.1,-4.0" fill="none" stroke="#000" stroke-width="1.4" stroke-linejoin="round" stroke-linecap="round" />
<path d="M215.2,408.2 q0.5,-1.4 0.9,-1.4" fill="none" stroke="#000" stroke-width="1.4" stroke-linejoin="round" stroke-linecap="round" />
<path d="M218.5,404.6 q2.3,-3.2 4.5,-3.2" fill="none" stroke="#000" stroke-width="1.4" stroke-linejoin="round" stroke-linecap="round" />
<path d="M227.8,402.9 q-1.8,-2.2 -3.6,2.2" fill="none" stroke="#000" stroke-width="1.4" stroke-linejoin="round" stroke-linecap="round" />
<path d="M218.2,405.4 q2.1,-3.3 4.2,3.3" fill="none" stroke="#000" stroke-width="1.4" stroke-linejoin="round" stroke-linecap="round" />
<path d="M218.9,410.3 q0.0,-0.1 0.1,0.1" fill="none" stroke="#000" stroke-width="1.4" stroke-linejoin="round" stroke-linecap="round" />
<path d="M220.7,403.7 q3.5,-1.6 7.1,1.6" fill="none" stroke="#000" stroke-width="1.4" stroke-linejoin="round" stroke-linecap="round" />
<path d="M270.8,395.4 q-1.9,-0.5 -3.8,0.5" fill="none" stroke="#000" stroke-width="1.4" stroke-linejoin="round" stroke-linecap="round" />
<path d="M276.9,401.0 q-2.9,-3.0 -5.8,-3.0" fill="none" stroke="#000" stroke-width="1.4" stroke-linejoin="round" stroke-linecap="round" />
<path d="M246.5,411.4 q1.4,-2.3 2.7,2.3" fill="none" stroke="#000" stroke-width="1.4" stroke-linejoin="round" stroke-linecap="round" />
<path d="M258.6,401.8 q1.7,-1.3 3.5,1.3" fill="none" stroke="#000" stroke-width="1.4" stroke-linejoin="round" stroke-linecap="round" />
<path d="M266.9,417.5 q3.7,-2.2 7.5,-2.2" fill="none" stroke="#000" stroke-width="1.4" stroke-linejoin="round" stroke-linecap="round" />
<path d="M268.4,403.0 q-0.1,-3.9 -0.2,3.9" fill="none" stroke="#000" stroke-width="1.4" stroke-linejoin="round" stroke-linecap="round" />
<path d="M221.6,410.8 q-1.3,-2.4 -2.6,-2.4" fill="none" stroke="#000" stroke-width="1.4" stroke-linejoin="round" stroke-linecap="round" />
<path d="M232.8,418.2 q-3.8,-0.4 -7.7,0.4" fill="none" stroke="#000" stroke-width="1.4" stroke-linejoin="round" stroke-linecap="round" />
<path d="M231.6,416.9 q0.1,-3.5 0.2,-3.5" fill="none" stroke="#000" stroke-width="1.4" stroke-linejoin="round" stroke-linecap="round" />
<path d="M277.9,404.7 q3.8,-3.2 7.5,-3.2" fill="none" stroke="#000" stroke-width="1.4" stroke-linejoin="round" stroke-linecap="round" />
<path d="M244.7,410.7 q2.2,-1.8 4.5,-1.8" fill="none" stroke="#000" stroke-width="1.4" stroke-linejoin="round" stroke-linecap="round" />
<path d="M262.4,413.6 q3.3,-2.6 6.6,2.6" fill="none" stroke="#000" stroke-width="1.4" stroke-linejoin="round" stroke-linecap="round" />
<path d="M244.9,412.9 q3.4,-0.6 6.7,0.6" fill="none" stroke="#000" stroke-width="1.4" stroke-linejoin="round" stroke-linecap="round" />
<path d="M274.1,410.6 q-0.6,-3.4 -1.2,-3.4" fill="none" stroke="#000" stroke-width="1.4" stroke-linejoin="round" stroke-linecap="round" />
<path d="M272.7,401.2 q2.4,-3.3 4.8,-3.3" fill="none" stroke="#000" stroke-width="1.4" stroke-linejoin="round" stroke-linecap="round" />
<path d="M262.1,397.8 q-1.3,-0.4 -2.6,0.4" fill="none" stroke="#000" stroke-width="1.4" stroke-linejoin="round" stroke-linecap="round" />
<path d="M263.6,402.2 q-3.0,-0.2 -5.9,0.2" fill="none" stroke="#000" stroke-width="1.4" stroke-linejoin="round" stroke-linecap="round" />
<path d="M246.8,412.1 q-2.7,-3.6 -5.4,-3.6" fill="none" stroke="#000" stroke-width="1.4" stroke-linejoin="round" stroke-linecap="round" />
<path d="M252.1,414.8 q-1.6,-2.1 -3.1,2.1" fill="none" stroke="#000" stroke-width="1.4" stroke-linejoin="round" stroke-linecap="round" />
<path d="M239.2,417.0 q-2.6,-1.2 -5.2,-1.2" fill="none" stroke="#000" stroke-width="1.4" stroke-linejoin="round" stroke-linecap="round" />
<path d="M265.0,407.0 q-3.9,-1.9 -7.8,1.9" fill="none" stroke="#000" stroke-width="1.4" stroke-linejoin="round" stroke-linecap="round" />
<path d="M229.3,403.6 q-0.2,-3.5 -0.4,3.5" fill="none" stroke="#000" stroke-width="1.4" stroke-linejoin="round" stroke-linecap="round" />
<path d="M271.5,414.8 q-0.5,-0.0 -1.1,-0.0" fill="none" stroke="#000" stroke-width="1.4" stroke-linejoin="round" stroke-linecap="round" />
<path d="M257.7,397.2 q0.1,-1.5 0.1,1.5" fill="none" stroke="#000" stroke-width="1.4" stroke-linejoin="round" stroke-linecap="round" />
<path d="M267.8,404.9 q2.7,-1.7 5.3,1.7" fill="none" stroke="#000" stroke-width="1.4" stroke-linejoin="round" stroke-linecap="round" />
<path d="M230.1,398.2 q-1.2,-3.6 -2.4,-3.6" fill="none" stroke="#000" stroke-width="1.4" stroke-linejoin="round" stroke-linecap="round" />
<path d="M252.6,410.9 q2.7,-3.0 5.5,3.0" fill="none" stroke="#000" stroke-width="1.4" stroke-linejoin="round" stroke-linecap="round" />
<path d="M246.8,415.0 q-0.3,-2.7 -0.6,-2.7" fill="none" stroke="#000" stroke-width="1.4" stroke-linejoin="round" stroke-linecap="round" />
<path d="M227.1,408.9 q3.7,-3.8 7.4,3.8" fill="none" stroke="#000" stroke-width="1.4" stroke-linejoin="round" stroke-linecap="round" />
<path d="M227.4,403.6 q3.7,-1.5 7.5,-1.5" fill="none" stroke="#000" stroke-width="1.4" stroke-linejoin="round" stroke-linecap="round" />
<path d="M226.9,413.5 q0.0,-2.4 0.0,-2.4" fill="none" stroke="#000" stroke-width="1.4" stroke-linejoin="round" stroke-linecap="round" />
<path d="M244.6,411.8 q-0.8,-3.7 -1.6,-3.7" fill="none" stroke="#000" stroke-width="1.4" stroke-linejoin="round" stroke-linecap="round" />
<path d="M266.6,407.3 q-2.1,-0.7 -4.3,0.7" fill="none" stroke="#000" stroke-width="1.4" stroke-linejoin="round" stroke-linecap="round" />
<path d="M214.8,403.5 q1.3,-1.7 2.5,1.7" fill="none" stroke="#000" stroke-width="1.4" stroke-linejoin="round" stroke-linecap="round" />
<path d="M262.7,399.0 q-1.4,-3.9 -2.8,3.9" fill="none" stroke="#000" stroke-width="1.4" stroke-linejoin="round" stroke-linecap="round" />
<path d="M264.1,416.8 q1.1,-3.6 2.3,-3.6" fill="none" stroke="#000" stroke-width="1.4" stroke-linejoin="round" stroke-linecap="round" />
<path d="M263.2,393.3 q1.0,-1.9 2.0,1.9" fill="none" stroke="#000" stroke-width="1.4" stroke-linejoin="round" stroke-linecap="round" />
<path d="M219.8,404.3 q2.7,-2.4 5.4,2.4" fill="none" stroke="#000" stroke-width="1.4" stroke-linejoin="round" stroke-linecap="round" />
<path d="M258.7,395.2 q3.1,-1.5 6.3,1.5" fill="none" stroke="#000" stroke-width="1.4" stroke-linejoin="round" stroke-linecap="round" />
<path d="M260.7,407.3 q-1.1,-3.2 -2.2,-3.2" fill="none" stroke="#000" stroke-width="1.4" stroke-linejoin="round" stroke-linecap="round" />
<path d="M259.9,395.8 q1.0,-1.0 2.0,1.0" fill="none" stroke="#000" stroke-width="1.4" stroke-linejoin="round" stroke-linecap="round" />
<path d="M278.2,406.3 q2.0,-0.0 4.0,0.0" fill="none" stroke="#000" stroke-width="1.4" stroke-linejoin="round" stroke-linecap="round" />
<path d="M216.8,403.2 q-3.5,-1.9 -6.9,1.9" fill="none" stroke="#000" stroke-width="1.4" stroke-linejoin="round" stroke-linecap="round" />
<path d="M245.6,411.5 q-1.9,-1.8 -3.8,1.8" fill="none" stroke="#000" stroke-width="1.4" stroke-linejoin="round" stroke-linecap="round" />
<path d="M254.4,419.0 q3.8,-0.0 7.6,-0.0" fill="none" stroke="#000" stroke-width="1.4" stroke-linejoin="round" stroke-linecap="round" />
<path d="M226.8,413.5 q1.5,-2.1 2.9,2.1" fill="none" stroke="#000" stroke-width="1.4" stroke-linejoin="round" stroke-linecap="round" />
<path d="M224.0,397.5 q-3.4,-2.8 -6.8,-2.8" fill="none" stroke="#000" stroke-width="1.4" stroke-linejoin="round" stroke-linecap="round" />
<path d="M245.0,419.6 q-1.6,-0.5 -3.1,0.5" fill="none" stroke="#000" stroke-width="1.4" stroke-linejoin="round" stroke-linecap="round" />
<path d="M257.7,406.4 q-1.8,-1.4 -3.7,1.4" fill="none" stroke="#000" stroke-width="1.4" stroke-linejoin="round" stroke-linecap="round" />
<path d="M239.0,417.1 q-0.3,-0.3 -0.6,-0.3" fill="none" stroke="#000" stroke-width="1.4" stroke-linejoin="round" stroke-linecap="round" />
<path d="M270.9,416.0 q-2.4,-3.8 -4.8,3.8" fill="none" stroke="#000" stroke-width="1.4" stroke-linejoin="round" stroke-linecap="round" />
<path d="M214.0,409.6 q3.7,-0.4 7.5,-0.4" fill="none" stroke="#000" stroke-width="1.4" stroke-linejoin="round" stroke-linecap="round" />
<path d="M243.6,413.8 q3.6,-2.3 7.1,-2.3" fill="none" stroke="#000" stroke-width="1.4" stroke-linejoin="round" stroke-linecap="round" />
<path d="M232.2,402.7 q0.2,-3.6 0.4,3.6" fill="none" stroke="#000" stroke-width="1.4" stroke-linejoin="round" stroke-linecap="round" />
<path d="M267.8,416.5 q0.1,-3.1 0.1,3.1" fill="none" stroke="#000" stroke-width="1.4" stroke-linejoin="round" stroke-linecap="round" />
<path d="M266.4,399.3 q-3.8,-4.0 -7.6,-4.0" fill="none" stroke="#000" stroke-width="1.4" stroke-linejoin="round" stroke-linecap="round" />
<path d="M220.8,406.6 q-1.6,-2.9 -3.2,-2.9" fill="none" stroke="#000" stroke-width="1.4" stroke-linejoin="round" stroke-linecap="round" />
<path d="M233.8,413.7 q2.7,-4.0 5.4,-4.0" fill="none" stroke="#000" stroke-width="1.4" stroke-linejoin="round" stroke-linecap="round" />
<path d="M271.1,416.3 q1.7,-3.2 3.4,3.2" fill="none" stroke="#000" stroke-width="1.4" stroke-linejoin="round" stroke-linecap="round" />
<path d="M240.1,415.6 q-0.9,-4.0 -1.7,4.0" fill="none" stroke="#000" stroke-width="1.4" stroke-linejoin="round" stroke-linecap="round" />
<path d="M226.6,400.8 q-0.6,-1.8 -1.2,-1.8" fill="none" stroke="#000" stroke-width="1.4" stroke-linejoin="round" stroke-linecap="round" />
<path d="M259.0,407.8 q2.7,-1.7 5.4,-1.7" fill="none" stroke="#000" stroke-width="1.4" stroke-linejoin="round" stroke-linecap="round" />
<path d="M263.6,402.7 q-1.9,-0.1 -3.7,0.1" fill="none" stroke="#000" stroke-width="1.4" stroke-linejoin="round" stroke-linecap="round" />
<path d="M254.2,415.2 q3.6,-3.1 7.3,3.1" fill="none" stroke="#000" stroke-width="1.4" stroke-linejoin="round" stroke-linecap="round" />
<path d="M256.8,394.4 q3.3,-3.5 6.6,3.5" fill="none" stroke="#000" stroke-width="1.4" stroke-linejoin="round" stroke-linecap="round" />
<path d="M216.3,401.9 q-3.6,-1.9 -7.2,1.9" fill="none" stroke="#000" stroke-width="1.4" stroke-linejoin="round" stroke-linecap="round" />
<path d="M215.7,410.1 q1.2,-1.7 2.3,-1.7" fill="none" stroke="#000" stroke-width="1.4" stroke-linejoin="round" stroke-linecap="round" />
<path d="M278.9,410.6 q-3.0,-0.2 -6.0,-0.2" fill="none" stroke="#000" stroke-width="1.4" stroke-linejoin="round" stroke-linecap="round" />
<path d="M234.2,413.5 q1.9,-3.8 3.8,3.8" fill="none" stroke="#000" stroke-width="1.4" stroke-linejoin="round" stroke-linecap="round" />
<path d="M243.9,418.8 q-1.6,-0.5 -3.2,0.5" fill="none" stroke="#000" stroke-width="1.4" stroke-linejoin="round" stroke-linecap="round" />
<path d="M232.7,410.4 q-2.7,-2.3 -5.4,-2.3" fill="none" stroke="#000" stroke-width="1.4" stroke-linejoin="round" stroke-linecap="round" />
<path d="M267.4,399.7 q-2.2,-3.3 -4.5,3.3" fill="none" stroke="#000" stroke-width="1.4" stroke-linejoin="round" stroke-linecap="round" />
<path d="M270.7,405.8 q-2.9,-2.5 -5.8,-2.5" fill="none" stroke="#000" stroke-width="1.4" stroke-linejoin="round" stroke-linecap="round" />
<path d="M264.4,411.2 q-3.3,-2.1 -6.5,-2.1" fill="none" stroke="#000" stroke-width="1.4" stroke-linejoin="round" stroke-linecap="round" />
<path d="M244.3,418.0 q3.1,-2.0 6.2,2.0" fill="none" stroke="#000" stroke-width="1.4" stroke-linejoin="round" stroke-linecap="round" />
<path d="M225.2,411.4 q0.2,-1.0 0.4,-1.0" fill="none" stroke="#000" stroke-width="1.4" stroke-linejoin="round" stroke-linecap="round" />
<path d="M239.4,410.4 q-1.8,-3.7 -3.6,3.7" fill="none" stroke="#000" stroke-width="1.4" stroke-linejoin="round" stroke-linecap="round" />
<path d="M264.2,414.1 q1.0,-2.9 2.1,2.9" fill="none" stroke="#000" stroke-width="1.4" stroke-linejoin="round" stroke-linecap="round" />
<path d="M250.0,414.5 q-2.0,-0.8 -4.0,-0.8" fill="none" stroke="#000" stroke-width="1.4" stroke-linejoin="round" stroke-linecap="round" />
<path d="M212.5,411.1 q2.8,-3.0 5.6,3.0" fill="none" stroke="#000" stroke-width="1.4" stroke-linejoin="round" stroke-linecap="round" />
<path d="M256.1,406.6 q1.7,-3.2 3.4,3.2" fill="none" stroke="#000" stroke-width="1.4" stroke-linejoin="round" stroke-linecap="round" />
<path d="M218.0,408.0 q-4.0,-0.9 -8.0,-0.9" fill="none" stroke="#000" stroke-width="1.4" stroke-linejoin="round" stroke-linecap="round" />
<path d="M275.3,399.7 q2.8,-3.8 5.7,3.8" fill="none" stroke="#000" stroke-width="1.4" stroke-linejoin="round" stroke-linecap="round" />
<path d="M245.9,412.2 q-2.8,-0.2 -5.5,0.2" fill="none" stroke="#000" stroke-width="1.4" stroke-linejoin="round" stroke-linecap="round" />
<path d="M231.2,392.2 q1.8,-1.2 3.5,1.2" fill="none" stroke="#000" stroke-width="1.4" stroke-linejoin="round" stroke-linecap="round" />
<path d="M271.5,399.9 q-1.6,-3.0 -3.1,-3.0" fill="none" stroke="#000" stroke-width="1.4" stroke-linejoin="round" stroke-linecap="round" />
<path d="M245.4,418.6 q1.6,-3.1 3.2,-3.1" fill="none" stroke="#000" stroke-width="1.4" stroke-linejoin="round" stroke-linecap="round" />
<path d="M269.9,410.9 q0.7,-0.9 1.3,-0.9" fill="none" stroke="#000" stroke-width="1.4" stroke-linejoin="round" stroke-linecap="round" />
<path d="M250.4,418.1 q-3.9,-1.6 -7.8,-1.6" fill="none" stroke="#000" stroke-width="1.4" stroke-linejoin="round" stroke-linecap="round" />
<path d="M211.5,409.7 q1.2,-3.1 2.3,3.1" fill="none" stroke="#000" stroke-width="1.4" stroke-linejoin="round" stroke-linecap="round" />
<path d="M227.1,407.3 q-2.0,-3.7 -4.0,3.7" fill="none" stroke="#000" stroke-width="1.4" stroke-linejoin="round" stroke-linecap="round" />
<path d="M271.6,407.5 q1.4,-0.6 2.8,-0.6" fill="none" stroke="#000" stroke-width="1.4" stroke-linejoin="round" stroke-linecap="round" />
<path d="M244.4,418.9 q3.4,-2.2 6.8,-2.2" fill="none" stroke="#000" stroke-width="1.4" stroke-linejoin="round" stroke-linecap="round" />
<path d="M267.3,408.0 q-0.6,-1.5 -1.3,1.5" fill="none" stroke="#000" stroke-width="1.4" stroke-linejoin="round" stroke-linecap="round" />
<path d="M256.1,419.3 q1.9,-0.0 3.8,0.0" fill="none" stroke="#000" stroke-width="1.4" stroke-linejoin="round" stroke-linecap="round" />
<path d="M255.6,420.8 q-1.5,-2.6 -3.0,2.6" fill="none" stroke="#000" stroke-width="1.4" stroke-linejoin="round" stroke-linecap="round" />
<path d="M248.0,413.9 q2.1,-1.6 4.2,-1.6" fill="none" stroke="#000" stroke-width="1.4" stroke-linejoin="round" stroke-linecap="round" />
<path d="M270.6,402.6 q-2.5,-2.2 -5.0,-2.2" fill="none" stroke="#000" stroke-width="1.4" stroke-linejoin="round" stroke-linecap="round" />
<path d="M219.9,412.4 q3.6,-2.8 7.2,-2.8" fill="none" stroke="#000" stroke-width="1.4" stroke-linejoin="round" stroke-linecap="round" />
<path d="M231.5,410.9 q3.8,-2.9 7.6,-2.9" fill="none" stroke="#000" stroke-width="1.4" stroke-linejoin="round" stroke-linecap="round" />
<path d="M257.1,407.7 q-0.9,-3.2 -1.7,3.2" fill="none" stroke="#000" stroke-width="1.4" stroke-linejoin="round" stroke-linecap="round" />
<path d="M268.9,397.0 q4.0,-3.5 8.0,3.5" fill="none" stroke="#000" stroke-width="1.4" stroke-linejoin="round" stroke-linecap="round" />
<path d="M237.5,412.5 q3.5,-2.0 7.0,2.0" fill="none" stroke="#000" stroke-width="1.4" stroke-linejoin="round" stroke-linecap="round" />
<path d="M274.9,408.6 q-1.0,-1.0 -1.9,-1.0" fill="none" stroke="#000" stroke-width="1.4" stroke-linejoin="round" stroke-linecap="round" />
<path d="M237.6,412.3 q-4.0,-1.8 -8.0,-1.8" fill="none" stroke="#000" stroke-width="1.4" stroke-linejoin="round" stroke-linecap="round" />
<path d="M224.7,418.3 q-3.0,-3.7 -6.0,3.7" fill="none" stroke="#000" stroke-width="1.4" stroke-linejoin="round" stroke-linecap="round" />
<path d="M251.7,415.4 q2.6,-2.6 5.1,2.6" fill="none" stroke="#000" stroke-width="1.4" stroke-linejoin="round" stroke-linecap="round" />
<path d="M223.1,407.6 q3.4,-2.5 6.7,-2.5" fill="none" stroke="#000" stroke-width="1.4" stroke-linejoin="round" stroke-linecap="round" />
<path d="M223.2,417.2 q-3.8,-0.7 -7.5,-0.7" fill="none" stroke="#000" stroke-width="1.4" stroke-linejoin="round" stroke-linecap="round" />
<path d="M257.8,393.3 q-3.7,-3.7 -7.3,-3.7" fill="none" stroke="#000" stroke-width="1.4" stroke-linejoin="round" stroke-linecap="round" />
<path d="M277.8,411.7 q-1.9,-2.0 -3.9,2.0" fill="none" stroke="#000" stroke-width="1.4" stroke-linejoin="round" stroke-linecap="round" />
<path d="M263.5,400.3 q-1.8,-3.7 -3.6,3.7" fill="none" stroke="#000" stroke-width="1.4" stroke-linejoin="round" stroke-linecap="round" />
<path d="M231.1,400.3 q1.7,-1.5 3.5,-1.5" fill="none" stroke="#000" stroke-width="1.4" stroke-linejoin="round" stroke-linecap="round" />
<path d="M222.4,394.7 q-3.8,-2.1 -7.6,-2.1" fill="none" stroke="#000" stroke-width="1.4" stroke-linejoin="round" stroke-linecap="round" />
<path d="M210.9,408.4 q3.6,-0.9 7.3,-0.9" fill="none" stroke="#000" stroke-width="1.4" stroke-linejoin="round" stroke-linecap="round" />
<path d="M245.6,416.6 q-0.1,-3.4 -0.1,3.4" fill="none" stroke="#000" stroke-width="1.4" stroke-linejoin="round" stroke-linecap="round" />
<path d="M259.0,418.8 q1.9,-2.6 3.8,2.6" fill="none" stroke="#000" stroke-width="1.4" stroke-linejoin="round" stroke-linecap="round" />
<path d="M235.7,414.2 q-1.1,-2.3 -2.2,2.3" fill="none" stroke="#000" stroke-width="1.4" stroke-linejoin="round" stroke-linecap="round" />
<path d="M261.3,409.6 q2.0,-2.0 4.0,-2.0" fill="none" stroke="#000" stroke-width="1.4" stroke-linejoin="round" stroke-linecap="round" />
<path d="M225.2,403.0 q3.8,-3.1 7.7,3.1" fill="none" stroke="#000" stroke-width="1.4" stroke-linejoin="round" stroke-linecap="round" />
<path d="M265.6,405.3 q-3.3,-3.2 -6.7,-3.2" fill="none" stroke="#000" stroke-width="1.4" stroke-linejoin="round" stroke-linecap="round" />
<path d="M215.0,406.1 q-0.4,-2.1 -0.8,-2.1" fill="none" stroke="#000" stroke-width="1.4" stroke-linejoin="round" stroke-linecap="round" />
<path d="M220.7,412.2 q1.4,-2.0 2.8,2.0" fill="none" stroke="#000" stroke-width="1.4" stroke-linejoin="round" stroke-linecap="round" />
<path d="M262.8,395.4 q-3.0,-2.7 -6.1,2.7" fill="none" stroke="#000" stroke-width="1.4" stroke-linejoin="round" stroke-linecap="round" />
<path d="M238.2,417.5 q-1.0,-1.9 -2.0,1.9" fill="none" stroke="#000" stroke-width="1.4" stroke-linejoin="round" stroke-linecap="round" />
<path d="M251.8,413.9 q-2.0,-2.8 -4.1,-2.8" fill="none" stroke="#000" stroke-width="1.4" stroke-linejoin="round" stroke-linecap="round" />
<path d="M266.6,398.0 q-1.4,-0.8 -2.8,-0.8" fill="none" stroke="#000" stroke-width="1.4" stroke-linejoin="round" stroke-linecap="round" />
<path d="M272.1,405.5 q-2.1,-2.5 -4.3,2.5" fill="none" stroke="#000" stroke-width="1.4" stroke-linejoin="round" stroke-linecap="round" />
<path d="M225.3,393.2 q-3.2,-0.2 -6.4,-0.2" fill="none" stroke="#000" stroke-width="1.4" stroke-linejoin="round" stroke-linecap="round" />
<path d="M259.7,393.0 q3.3,-3.7 6.6,-3.7" fill="none" stroke="#000" stroke-width="1.4" stroke-linejoin="round" stroke-linecap="round" />
<path d="M241.8,412.1 q-2.5,-3.8 -5.0,3.8" fill="none" stroke="#000" stroke-width="1.4" stroke-linejoin="round" stroke-linecap="round" />
<path d="M215.6,398.5 q-1.0,-2.9 -2.0,2.9" fill="none" stroke="#000" stroke-width="1.4" stroke-linejoin="round" stroke-linecap="round" />
<path d="M227.0,408.7 q2.2,-3.6 4.4,3.6" fill="none" stroke="#000" stroke-width="1.4" stroke-linejoin="round" stroke-linecap="round" />
<path d="M268.1,413.6 q1.0,-2.3 1.9,-2.3" fill="none" stroke="#000" stroke-width="1.4" stroke-linejoin="round" stroke-linecap="round" />
<path d="M235.2,410.9 q-2.4,-2.0 -4.7,-2.0" fill="none" stroke="#000" stroke-width="1.4" stroke-linejoin="round" stroke-linecap="round" />
<path d="M221.8,398.5 q-2.4,-3.9 -4.7,-3.9" fill="none" stroke="#000" stroke-width="1.4" stroke-linejoin="round" stroke-linecap="round" />
<path d="M231.7,417.5 q-2.5,-1.5 -5.0,-1.5" fill="none" stroke="#000" stroke-width="1.4" stroke-linejoin="round" stroke-linecap="round" />
<path d="M255.1,419.4 q0.4,-3.5 0.8,-3.5" fill="none" stroke="#000" stroke-width="1.4" stroke-linejoin="round" stroke-linecap="round" />
<path d="M264.7,412.1 q0.4,-1.1 0.8,1.1" fill="none" stroke="#000" stroke-width="1.4" stroke-linejoin="round" stroke-linecap="round" />
<path d="M259.6,409.9 q1.6,-0.7 3.1,-0.7" fill="none" stroke="#000" stroke-width="1.4" stroke-linejoin="round" stroke-linecap="round" />
<path d="M241.4,414.9 q3.6,-1.5 7.3,-1.5" fill="none" stroke="#000" stroke-width="1.4" stroke-linejoin="round" stroke-linecap="round" />
<path d="M225.1,402.0 q-0.7,-2.9 -1.3,2.9" fill="none" stroke="#000" stroke-width="1.4" stroke-linejoin="round" stroke-linecap="round" />
<path d="M268.5,405.8 q-2.4,-1.8 -4.8,1.8" fill="none" stroke="#000" stroke-width="1.4" stroke-linejoin="round" stroke-linecap="round" />
<path d="M265.6,399.9 q2.6,-0.8 5.1,-0.8" fill="none" stroke="#000" stroke-width="1.4" stroke-linejoin="round" stroke-linecap="round" />
<path d="M264.4,398.7 q-2.7,-3.9 -5.4,-3.9" fill="none" stroke="#000" stroke-width="1.4" stroke-linejoin="round" stroke-linecap="round" />
<path d="M218.0,402.0 q3.3,-3.3 6.6,-3.3" fill="none" stroke="#000" stroke-width="1.4" stroke-linejoin="round" stroke-linecap="round" />
<path d="M229.3,399.1 q0.0,-2.8 0.1,-2.8" fill="none" stroke="#000" stroke-width="1.4" stroke-linejoin="round" stroke-linecap="round" />
<path d="M240.2,417.3 q3.4,-3.1 6.8,-3.1" fill="none" stroke="#000" stroke-width="1.4" stroke-linejoin="round" stroke-linecap="round" />
<path d="M213.2,406.8 q3.7,-2.4 7.5,-2.4" fill="none" stroke="#000" stroke-width="1.4" stroke-linejoin="round" stroke-linecap="round" />
<path d="M270.3,416.8 q3.8,-0.1 7.6,-0.1" fill="none" stroke="#000" stroke-width="1.4" stroke-linejoin="round" stroke-linecap="round" />
<path d="M278.6,410.9 q-0.9,-3.2 -1.8,3.2" fill="none" stroke="#000" stroke-width="1.4" stroke-linejoin="round" stroke-linecap="round" />
<path d="M221.8,396.2 q-2.7,-2.3 -5.4,2.3" fill="none" stroke="#000" stroke-width="1.4" stroke-linejoin="round" stroke-linecap="round" />
<path d="M249.9,416.1 q2.8,-2.6 5.5,2.6" fill="none" stroke="#000" stroke-width="1.4" stroke-linejoin="round" stroke-linecap="round" />
<path d="M253.3,413.2 q-0.8,-0.1 -1.6,0.1" fill="none" stroke="#000" stroke-width="1.4" stroke-linejoin="round" stroke-linecap="round" />
<path d="M234.7,410.3 q-2.0,-1.8 -4.0,1.8" fill="none" stroke="#000" stroke-width="1.4" stroke-linejoin="round" stroke-linecap="round" />
<path d="M216.5,400.8 q-3.7,-2.7 -7.4,2.7" fill="none" stroke="#000" stroke-width="1.4" stroke-linejoin="round" stroke-linecap="round" />
<path d="M266.7,414.3 q0.4,-1.0 0.8,1.0" fill="none" stroke="#000" stroke-width="1.4" stroke-linejoin="round" stroke-linecap="round" />
<path d="M237.4,415.8 q0.7,-0.6 1.3,-0.6" fill="none" stroke="#000" stroke-width="1.4" stroke-linejoin="round" stroke-linecap="round" />
<path d="M232.3,397.0 q-0.5,-3.8 -1.0,-3.8" fill="none" stroke="#000" stroke-width="1.4" stroke-linejoin="round" stroke-linecap="round" />
<path d="M226.7,398.4 q-2.1,-2.1 -4.2,2.1" fill="none" stroke="#000" stroke-width="1.4" stroke-linejoin="round" stroke-linecap="round" />
<path d="M256.7,416.0 q-3.1,-3.0 -6.3,-3.0" fill="none" stroke="#000" stroke-width="1.4" stroke-linejoin="round" stroke-linecap="round" />
<path d="M233.5,408.5 q-0.5,-0.1 -0.9,0.1" fill="none" stroke="#000" stroke-width="1.4" stroke-linejoin="round" stroke-linecap="round" />
<path d="M274.0,409.2 q-3.3,-1.9 -6.7,1.9" fill="none" stroke="#000" stroke-width="1.4" stroke-linejoin="round" stroke-linecap="round" />
<path d="M270.5,409.8 q-1.0,-3.6 -2.0,3.6" fill="none" stroke="#000" stroke-width="1.4" stroke-linejoin="round" stroke-linecap="round" />
<path d="M267.7,416.9 q4.0,-1.9 7.9,1.9" fill="none" stroke="#000" stroke-width="1.4" stroke-linejoin="round" stroke-linecap="round" />
<path d="M271.5,404.7 q3.7,-3.3 7.3,3.3" fill="none" stroke="#000" stroke-width="1.4" stroke-linejoin="round" stroke-linecap="round" />
<path d="M262.1,418.0 q3.4,-3.5 6.9,-3.5" fill="none" stroke="#000" stroke-width="1.4" stroke-linejoin="round" stroke-linecap="round" />
<path d="M227.0,417.0 q-2.7,-3.2 -5.5,3.2" fill="none" stroke="#000" stroke-width="1.4" stroke-linejoin="round" stroke-linecap="round" />
<path d="M240.6,420.0 q-2.9,-0.0 -5.7,0.0" fill="none" stroke="#000" stroke-width="1.4" stroke-linejoin="round" stroke-linecap="round" />
<path d="M261.5,402.2 q-1.9,-0.0 -3.8,0.0" fill="none" stroke="#000" stroke-width="1.4" stroke-linejoin="round" stroke-linecap="round" />
<path d="M241.3,410.2 q-2.5,-2.7 -5.1,-2.7" fill="none" stroke="#000" stroke-width="1.4" stroke-linejoin="round" stroke-linecap="round" />
<path d="M273.5,400.9 q3.2,-2.7 6.3,-2.7" fill="none" stroke="#000" stroke-width="1.4" stroke-linejoin="round" stroke-linecap="round" />
<path d="M217.1,403.6 q-1.1,-3.0 -2.2,3.0" fill="none" stroke="#000" stroke-width="1.4" stroke-linejoin="round" stroke-linecap="round" />
<path d="M219.4,401.9 q3.1,-3.2 6.1,-3.2" fill="none" stroke="#000" stroke-width="1.4" stroke-linejoin="round" stroke-linecap="round" />
<path d="M274.8,405.4 q-0.8,-2.4 -1.7,2.4" fill="none" stroke="#000" stroke-width="1.4" stroke-linejoin="round" stroke-linecap="round" />
<path d="M242.4,421.5 q0.6,-1.1 1.2,-1.1" fill="none" stroke="#000" stroke-width="1.4" stroke-linejoin="round" stroke-linecap="round" />
<path d="M259.7,418.2 q-3.6,-2.6 -7.2,2.6" fill="none" stroke="#000" stroke-width="1.4" stroke-linejoin="round" stroke-linecap="round" />
<path d="M245.1,418.6 q3.9,-0.7 7.7,0.7" fill="none" stroke="#000" stroke-width="1.4" stroke-linejoin="round" stroke-linecap="round" />
<path d="M256.2,406.1 q-2.8,-0.9 -5.6,0.9" fill="none" stroke="#000" stroke-width="1.4" stroke-linejoin="round" stroke-linecap="round" />
<path d="M221.7,410.7 q3.2,-2.9 6.3,-2.9" fill="none" stroke="#000" stroke-width="1.4" stroke-linejoin="round" stroke-linecap="round" />
<path d="M250.0,418.6 q-3.8,-4.0 -7.6,-4.0" fill="none" stroke="#000" stroke-width="1.4" stroke-linejoin="round" stroke-linecap="round" />
<path d="M237.1,410.8 q-1.1,-2.2 -2.3,-2.2" fill="none" stroke="#000" stroke-width="1.4" stroke-linejoin="round" stroke-linecap="round" />
<path d="M221.4,399.9 q-2.4,-1.0 -4.7,1.0" fill="none" stroke="#000" stroke-width="1.4" stroke-linejoin="round" stroke-linecap="round" />
<path d="M230.6,407.0 q3.5,-2.1 7.0,-2.1" fill="none" stroke="#000" stroke-width="1.4" stroke-linejoin="round" stroke-linecap="round" />
<path d="M253.8,410.8 q1.1,-3.0 2.2,3.0" fill="none" stroke="#000" stroke-width="1.4" stroke-linejoin="round" stroke-linecap="round" />
<path d="M208,410 C214,419 232,422 245.75,422 C262,422 278,419 283,410" fill="none" stroke="#000" stroke-width="1.8" stroke-linejoin="round" stroke-linecap="round" />
<path d="M235,393.7 L235,409.2 C240,411 251,411 254.7,409.2 L254.7,393.7 C250,396 240,396 235,393.7 Z" fill="#fff" stroke="#000" stroke-width="1.8" stroke-linejoin="round" stroke-linecap="round" />
<path d="M238.4,354 L238.4,392 C242,394.5 248,394.5 251.7,392 L251.7,354" fill="#fff" stroke="#000" stroke-width="2" stroke-linejoin="round" stroke-linecap="round" />
<path d="M239.8,329 L239.8,354 M250.3,329 L250.3,354" fill="none" stroke="#000" stroke-width="2" stroke-linejoin="round" stroke-linecap="round" />
<path d="M238.4,354 C242,356.5 248,356.5 251.7,354" fill="none" stroke="#000" stroke-width="1.5" stroke-linejoin="round" stroke-linecap="round" />
<ellipse cx="245" cy="329" rx="5.3" ry="2.8" fill="#fff" stroke="#000" stroke-width="1.8"/>
<path d="M316.6,464.7 L338.3,464.7 L338.3,450.1 L347.8,449.6 L352.4,461.7 L355.4,461.7 L355.4,448.6 L363.5,448.6 L364.5,461.7 L368.5,461.7 L393.8,457.7 L396.3,459.7 L399.3,467.2 L399.8,494.5 C396,503 378,511.5 352,512.1 C332,512 319,504 316.6,492 Z" fill="#fff" stroke="#000" stroke-width="2.3" stroke-linejoin="round" stroke-linecap="round" />
<ellipse cx="357.9" cy="467.7" rx="8" ry="4.5" fill="none" stroke="#000" stroke-width="2"/>
<path d="M340.27,451.10 L350.36,464.22" fill="none" stroke="#000" stroke-width="1.6" stroke-linejoin="round" stroke-linecap="round" />
<path d="M357.43,449.08 L357.43,463.21" fill="none" stroke="#000" stroke-width="1.6" stroke-linejoin="round" stroke-linecap="round" />
<path d="M366.51,464.22 L394.76,459.17" fill="none" stroke="#000" stroke-width="1.6" stroke-linejoin="round" stroke-linecap="round" />
<path d="M347.34,469.26 L320.09,470.27" fill="none" stroke="#000" stroke-width="1.6" stroke-linejoin="round" stroke-linecap="round" />
<path d="M354.90,474.31 L363.48,498.53" fill="none" stroke="#000" stroke-width="1.6" stroke-linejoin="round" stroke-linecap="round" />
<path d="M364.49,474.31 L364.49,498.53" fill="none" stroke="#000" stroke-width="1.6" stroke-linejoin="round" stroke-linecap="round" />
<path d="M366.51,473.30 L376.60,484.40" fill="none" stroke="#000" stroke-width="1.6" stroke-linejoin="round" stroke-linecap="round" />
<path d="M349.86,474.31 L349.86,493.48" fill="none" stroke="#000" stroke-width="1.6" stroke-linejoin="round" stroke-linecap="round" />
<path d="M321.10,467.25 L347.34,466.24" fill="none" stroke="#000" stroke-width="1.6" stroke-linejoin="round" stroke-linecap="round" />
<path d="M368.53,468.25 L396.78,468.25" fill="none" stroke="#000" stroke-width="1.6" stroke-linejoin="round" stroke-linecap="round" />
<path d="M323.62,479.35 L348.85,473.30 L348.85,493.48 L324.13,497.52 Z" fill="none" stroke="#000" stroke-width="1.8" stroke-linejoin="round" stroke-linecap="round" />
<path d="M370.54,471.28 L399.30,471.28 L399.30,490.45 L378.62,490.45 L376.60,484.40" fill="none" stroke="#000" stroke-width="1.8" stroke-linejoin="round" stroke-linecap="round" />
<path d="M325.14,500.54 L354.40,494.49 L354.40,509.63" fill="none" stroke="#000" stroke-width="1.5" stroke-linejoin="round" stroke-linecap="round" />
<path d="M378.62,491.46 L399.30,492.47 L379.63,507.61" fill="none" stroke="#000" stroke-width="1.5" stroke-linejoin="round" stroke-linecap="round" />
<path d="M360.96,484.40 L360.96,499.54 L368.53,499.54 L368.53,484.40" fill="none" stroke="#000" stroke-width="1.6" stroke-linejoin="round" stroke-linecap="round" />
<path d="M320.09,467.25 L320.09,496.51" fill="none" stroke="#000" stroke-width="3" stroke-linejoin="round" stroke-linecap="round" />
<path d="M322.11,469.26 L324.13,469.26 L324.13,476.33 L322.11,476.33" fill="none" stroke="#000" stroke-width="1.4" stroke-linejoin="round" stroke-linecap="round" />
<path d="M337,501 C337,505 340,505 341,502 C342,505 345,505 344,501" fill="none" stroke="#000" stroke-width="1.3" stroke-linejoin="round" stroke-linecap="round" />
<path d="M382,494 C385,492 387,494 385,496 C388,497 386,500 382,499" fill="none" stroke="#000" stroke-width="1.3" stroke-linejoin="round" stroke-linecap="round" />
<path d="M331.19,468.25 L331.19,474.31" fill="none" stroke="#000" stroke-width="1.3" stroke-linejoin="round" stroke-linecap="round" />
<path d="M339.26,468.25 L339.26,473.30" fill="none" stroke="#000" stroke-width="1.3" stroke-linejoin="round" stroke-linecap="round" />
<path d="M377.61,464.22 L377.61,470.27" fill="none" stroke="#000" stroke-width="1.3" stroke-linejoin="round" stroke-linecap="round" />
<path d="M384.67,463.21 L384.67,469.26" fill="none" stroke="#000" stroke-width="1.3" stroke-linejoin="round" stroke-linecap="round" />
<path d="M342.2,359.5 L357.1,357.7 L358.8,361.3 L358.2,390 L352.9,390 L342.2,379.8 Z" fill="#fff" stroke="#000" stroke-width="2" stroke-linejoin="round" stroke-linecap="round" />
<path d="M342.2,359.5 L352.3,369 L358.5,368.5 M352.3,369 L352.9,390" fill="none" stroke="#000" stroke-width="1.6" stroke-linejoin="round" stroke-linecap="round" />
<path d="M357.1,361 L358.8,361.3 L358.2,390 L356.2,390 Z" fill="#000"/>
<path d="M359.4,364.3 C364,365 368,368 371,372 C375,378 378,384 380.9,391" fill="none" stroke="#000" stroke-width="3.2" stroke-linejoin="round" stroke-linecap="round" />
<path d="M359.4,364.3 C364,365 368,368 371,372 C375,378 378,384 380.9,391" fill="none" stroke="#000" stroke-width="0.9" stroke-linejoin="round" stroke-linecap="round" stroke-dasharray="1,2" style="stroke:#fff"/>
<path d="M379.5,390 L382.5,393" fill="none" stroke="#000" stroke-width="3" stroke-linejoin="round" stroke-linecap="round" />
<path d="M385.1,397.1 C388,402 390,406 392.2,411 C394,415 396,419 398,422" fill="none" stroke="#000" stroke-width="3.2" stroke-linejoin="round" stroke-linecap="round" />
<path d="M385.1,397.1 C388,402 390,406 392.2,411" fill="none" stroke="#000" stroke-width="0.9" stroke-linejoin="round" stroke-linecap="round" stroke-dasharray="1,2" style="stroke:#fff"/>
<path d="M392.5,416 L395,423 M397,414 L401,420" fill="none" stroke="#000" stroke-width="1.4" stroke-linejoin="round" stroke-linecap="round" />
<ellipse cx="400" cy="426.3" rx="6.3" ry="4.8" fill="#fff" stroke="#000" stroke-width="1.8"/>
<ellipse cx="400.3" cy="426" rx="2.8" ry="2" fill="none" stroke="#000" stroke-width="1.5"/>
<path d="M394.6,382 L394.6,398 C396,400 400,400 401.8,398 L401.8,382" fill="#fff" stroke="#000" stroke-width="1.6" stroke-linejoin="round" stroke-linecap="round" />
<path d="M394.8,385 L401.6,386" fill="none" stroke="#000" stroke-width="1.2" stroke-linejoin="round" stroke-linecap="round" />
<path d="M394.8,388 L401.6,389" fill="none" stroke="#000" stroke-width="1.2" stroke-linejoin="round" stroke-linecap="round" />
<path d="M394.8,391 L401.6,392" fill="none" stroke="#000" stroke-width="1.2" stroke-linejoin="round" stroke-linecap="round" />
<path d="M394.8,394 L401.6,395" fill="none" stroke="#000" stroke-width="1.2" stroke-linejoin="round" stroke-linecap="round" />
<path d="M394.8,397 L401.6,398" fill="none" stroke="#000" stroke-width="1.2" stroke-linejoin="round" stroke-linecap="round" />
<path d="M391,374 L391,380 C393,383 402,383 404.7,380 L404.7,374" fill="#fff" stroke="#000" stroke-width="1.6" stroke-linejoin="round" stroke-linecap="round" />
<ellipse cx="397.85" cy="373.3" rx="6.85" ry="3.2" fill="#fff" stroke="#000" stroke-width="1.6"/>
<path d="M391,377 C394,379.5 401,379.5 404.7,377" fill="none" stroke="#000" stroke-width="1.2" stroke-linejoin="round" stroke-linecap="round" />
<path d="M348,403 C348,400 358,400 358,403 C358,405.5 348,405.5 348,408" fill="none" stroke="#000" stroke-width="1.3" stroke-linejoin="round" stroke-linecap="round" />
<path d="M348,409 C348,406 358,406 358,409 C358,411.5 348,411.5 348,414" fill="none" stroke="#000" stroke-width="1.3" stroke-linejoin="round" stroke-linecap="round" />
<path d="M348,415 C348,412 358,412 358,415 C358,417.5 348,417.5 348,420" fill="none" stroke="#000" stroke-width="1.3" stroke-linejoin="round" stroke-linecap="round" />
<path d="M348,421 C348,418 358,418 358,421 C358,423.5 348,423.5 348,426" fill="none" stroke="#000" stroke-width="1.3" stroke-linejoin="round" stroke-linecap="round" />
<path d="M348,427 C348,424 358,424 358,427 C358,429.5 348,429.5 348,432" fill="none" stroke="#000" stroke-width="1.3" stroke-linejoin="round" stroke-linecap="round" />
<path d="M348,433 C348,430 358,430 358,433 C358,435.5 348,435.5 348,438" fill="none" stroke="#000" stroke-width="1.3" stroke-linejoin="round" stroke-linecap="round" />
<path d="M348,436 C348,439 358,439 358,436 L358,433 C358,431 348,431 348,433 Z" fill="none" stroke="#000" stroke-width="1.4" stroke-linejoin="round" stroke-linecap="round" />
<path d="M18.2,425.4 C30,426 44,426.5 54.5,426.3 M18.2,429.5 C30,431 44,432.5 55,432.2" fill="none" stroke="#000" stroke-width="1.7" stroke-linejoin="round" stroke-linecap="round" />
<path d="M70,419.5 C78,416 90,411 100,407 C112,403.1 125,402.5 135.5,402.6 C143,403 150,405 153.7,407.5" fill="none" stroke="#000" stroke-width="1.7" stroke-linejoin="round" stroke-linecap="round" />
<path d="M72.7,426.3 C80,422 90,417 100,413.5 C112,409.2 125,408.2 135.5,408.2 C143,408.5 150,410 153.7,412" fill="none" stroke="#000" stroke-width="1.7" stroke-linejoin="round" stroke-linecap="round" />
<path d="M5,419.5 L16.8,419.5 L21.3,422.2 L19.1,436.8 L14.5,440 L1.4,435.9 Z" fill="#fff" stroke="#000" stroke-width="1.9" stroke-linejoin="round" stroke-linecap="round" />
<path d="M16.8,419.5 L14.5,436 L1.4,435.9 M14.5,436 L14.5,440" fill="none" stroke="#000" stroke-width="1.6" stroke-linejoin="round" stroke-linecap="round" />
<path d="M53.6,422.7 L69,419.5 L70.8,431.3 L56.3,434 Z" fill="#fff" stroke="#000" stroke-width="1.9" stroke-linejoin="round" stroke-linecap="round" />
<path d="M59,431 L61.5,450 C63,453.5 70,453 72.5,450 L68.5,430" fill="#fff" stroke="#000" stroke-width="1.7" stroke-linejoin="round" stroke-linecap="round" />
<path d="M59.8,435 L69.5,433.8" fill="none" stroke="#000" stroke-width="1.3" stroke-linejoin="round" stroke-linecap="round" />
<path d="M59.8,439 L69.5,437.8" fill="none" stroke="#000" stroke-width="1.3" stroke-linejoin="round" stroke-linecap="round" />
<path d="M59.8,443 L69.5,441.8" fill="none" stroke="#000" stroke-width="1.3" stroke-linejoin="round" stroke-linecap="round" />
<path d="M59.8,447 L69.5,445.8" fill="none" stroke="#000" stroke-width="1.3" stroke-linejoin="round" stroke-linecap="round" />
<ellipse cx="63" cy="427.5" rx="4" ry="4" fill="#fff" stroke="#000" stroke-width="1.8"/>
<path d="M152.7,410.2 L159.7,408.7 L168.8,415.7 L174.9,425.8 L168.8,429.4 L162.7,424.8 L152.1,417.8 Z" fill="#fff" stroke="#000" stroke-width="1.7" stroke-linejoin="round" stroke-linecap="round" />
<path d="M159.7,408.7 L157,416 L168,424 L168.8,415.7 M162,416 L164,421 M168,424 L174,426" fill="none" stroke="#000" stroke-width="1.3" stroke-linejoin="round" stroke-linecap="round" />
<path d="M165,425 L171,429.5 L169,432 L166,429 Z" fill="none" stroke="#000" stroke-width="1.4" stroke-linejoin="round" stroke-linecap="round" />
<path d="M191.36,577.49 L191.36,609.98 L204.07,618.46 L204.78,641.06 L219.61,643.88 L223.14,636.82 L238.68,632.58 L238.68,631.17 L261.99,631.88 L264.11,635.41 L269.76,638.23 L276.82,635.41 L277.53,621.28 L292.36,618.46 L303.66,621.28 L303.66,607.16 L307.90,606.03 L313.55,600.09 L318.92,590.20 L320.33,583.14 L317.79,577.21 L310.72,572.69 L298.01,573.25 L298.72,555.59 L288.83,552.77 L275.41,560.54 L258.46,557.01 L234.44,555.59 L213.25,559.13 L197.71,567.60 Z" fill="#fff" stroke="#000" stroke-width="2" stroke-linejoin="round" stroke-linecap="round" />
<path d="M275.41,560.54 L288.83,552.77 L298.72,555.59 L298.01,574.67" fill="none" stroke="#000" stroke-width="1.8" stroke-linejoin="round" stroke-linecap="round" />
<path d="M275.41,560.54 L283.88,566.19 L298.72,556.30" fill="none" stroke="#000" stroke-width="1.5" stroke-linejoin="round" stroke-linecap="round" />
<path d="M283.88,566.19 L286.71,577.49" fill="none" stroke="#000" stroke-width="1.5" stroke-linejoin="round" stroke-linecap="round" />
<path d="M291,566 C293,568 294,571 293,574" fill="none" stroke="#000" stroke-width="1.4" stroke-linejoin="round" stroke-linecap="round" />
<ellipse cx="243.6" cy="582.4" rx="52.2" ry="26.1" fill="none" stroke="#000" stroke-width="2"/>
<ellipse cx="245" cy="580.3" rx="47.3" ry="22.6" fill="none" stroke="#000" stroke-width="1.5"/>
<path d="M191.4,584 C192,598 215,610 243.6,611.4 C272,610 295,598 296,584" fill="none" stroke="#000" stroke-width="1.6" stroke-linejoin="round" stroke-linecap="round" />
<path d="M193,593 C200,604 222,612 243.6,613 C266,612 288,604 295,593" fill="none" stroke="#000" stroke-width="1.2" stroke-linejoin="round" stroke-linecap="round" />
<path d="M207.60,591.62 L231.62,582.43" fill="none" stroke="#000" stroke-width="1.5" stroke-linejoin="round" stroke-linecap="round" />
<path d="M255.63,582.43 L271.17,581.73 L276.82,591.62" fill="none" stroke="#000" stroke-width="1.5" stroke-linejoin="round" stroke-linecap="round" />
<path d="M213.25,593.03 L227.38,594.44 L230.91,600.09" fill="none" stroke="#000" stroke-width="1.4" stroke-linejoin="round" stroke-linecap="round" />
<path d="M255.63,597.27 L269.76,591.62 L275.41,591.62" fill="none" stroke="#000" stroke-width="1.4" stroke-linejoin="round" stroke-linecap="round" />
<path d="M207.60,591.62 L207.60,607.16" fill="none" stroke="#000" stroke-width="1.4" stroke-linejoin="round" stroke-linecap="round" />
<path d="M278.23,578.90 L278.23,594.44" fill="none" stroke="#000" stroke-width="1.4" stroke-linejoin="round" stroke-linecap="round" />
<path d="M288.12,578.90 L288.12,591.62" fill="none" stroke="#000" stroke-width="1.4" stroke-linejoin="round" stroke-linecap="round" />
<path d="M231.6,581.4 L231.6,604 L255.6,604 L255.6,581.4" fill="#fff" stroke="#000" stroke-width="1.8" stroke-linejoin="round" stroke-linecap="round" />
<ellipse cx="243.6" cy="581.4" rx="12" ry="6" fill="#fff" stroke="#000" stroke-width="1.8"/>
<ellipse cx="243.8" cy="581.6" rx="7.2" ry="3.4" fill="none" stroke="#000" stroke-width="2.4"/>
<path d="M231.62,600.80 L247.16,602.92 L247.16,607.16" fill="none" stroke="#000" stroke-width="1.4" stroke-linejoin="round" stroke-linecap="round" />
<path d="M252.10,607.16 L252.81,601.51 L264.11,598.68" fill="none" stroke="#000" stroke-width="1.4" stroke-linejoin="round" stroke-linecap="round" />
<ellipse cx="199.1" cy="581.7" rx="4.3" ry="2.2" fill="none" stroke="#000" stroke-width="1.4"/>
<path d="M195,582 L195,585 M203.5,582 L203.5,585" fill="none" stroke="#000" stroke-width="1.2" stroke-linejoin="round" stroke-linecap="round" />
<ellipse cx="286.3" cy="576.8" rx="4.3" ry="2.2" fill="none" stroke="#000" stroke-width="1.4"/>
<path d="M282,577 L282,586 M290.5,577 L290.5,586" fill="none" stroke="#000" stroke-width="1.2" stroke-linejoin="round" stroke-linecap="round" />
<path d="M204.07,607.16 L204.07,641.06 L219.61,643.88 L219.61,611.39" fill="none" stroke="#000" stroke-width="1.8" stroke-linejoin="round" stroke-linecap="round" />
<path d="M215.37,609.98 L219.61,611.39 L223.14,611.39 L223.14,636.82" fill="none" stroke="#000" stroke-width="1.4" stroke-linejoin="round" stroke-linecap="round" />
<path d="M237.97,608.57 L237.97,631.17 L261.99,631.88 L264.11,608.57" fill="none" stroke="#000" stroke-width="1.8" stroke-linejoin="round" stroke-linecap="round" />
<path d="M264.11,607.86 L269.76,609.98 L276.82,607.16 L276.82,635.41" fill="none" stroke="#000" stroke-width="1.6" stroke-linejoin="round" stroke-linecap="round" />
<path d="M269.76,609.98 L269.76,638.23" fill="none" stroke="#000" stroke-width="1.5" stroke-linejoin="round" stroke-linecap="round" />
<path d="M292.36,594.44 L292.36,618.46" fill="none" stroke="#000" stroke-width="1.5" stroke-linejoin="round" stroke-linecap="round" />
<path d="M298.01,593.03 L298.01,621.28" fill="none" stroke="#000" stroke-width="1.5" stroke-linejoin="round" stroke-linecap="round" />
<path d="M223.14,615.63 L237.97,621.28" fill="none" stroke="#000" stroke-width="1.2" stroke-linejoin="round" stroke-linecap="round" />
<path d="M191.36,609.98 L203.36,605.74" fill="none" stroke="#000" stroke-width="1.2" stroke-linejoin="round" stroke-linecap="round" />
<ellipse cx="249.3" cy="619.9" rx="8.5" ry="6.4" fill="none" stroke="#000" stroke-width="1.8"/>
<path d="M241.5,621 C244,624 254,624 257,621" fill="none" stroke="#000" stroke-width="1.3" stroke-linejoin="round" stroke-linecap="round" />
<path d="M296.60,585.97 L306.49,578.90 L317.79,577.21" fill="none" stroke="#000" stroke-width="1.5" stroke-linejoin="round" stroke-linecap="round" />
<path d="M304.37,587.38 L319.91,585.97" fill="none" stroke="#000" stroke-width="1.3" stroke-linejoin="round" stroke-linecap="round" />
<ellipse cx="310" cy="592.3" rx="3.4" ry="4" fill="none" stroke="#000" stroke-width="1.6"/>
<ellipse cx="401.4" cy="602.6" rx="10.2" ry="10.8" fill="#fff" stroke="#000" stroke-width="2" transform="rotate(20 401.4 602.6)"/>
<path d="M407.90,602.40 L405.85,604.25 L406.05,607.08 L403.36,606.86 L401.60,609.01 L399.84,606.86 L397.15,607.08 L397.35,604.25 L395.30,602.40 L397.35,600.55 L397.15,597.72 L399.84,597.94 L401.60,595.78 L403.36,597.94 L406.05,597.72 L405.85,600.55 Z" fill="none" stroke="#000" stroke-width="1.3" stroke-linejoin="round" stroke-linecap="round" />
<path d="M415,603.7 L462,622.5 L459.5,634.8 L412.2,612.7 C410.5,610 412,604.5 415,603.7 Z" fill="#fff" stroke="#000" stroke-width="1.8" stroke-linejoin="round" stroke-linecap="round" />
<path d="M416.0,604.2 C413.0,606.2 410.0,610.5 413.0,612.5" fill="none" stroke="#000" stroke-width="1.5" stroke-linejoin="round" stroke-linecap="round" />
<path d="M419.3,605.5 C416.3,607.5 413.3,612.1 416.3,614.1" fill="none" stroke="#000" stroke-width="1.5" stroke-linejoin="round" stroke-linecap="round" />
<path d="M422.7,606.9 C419.7,608.9 416.7,613.6 419.7,615.6" fill="none" stroke="#000" stroke-width="1.5" stroke-linejoin="round" stroke-linecap="round" />
<path d="M426.0,608.2 C423.0,610.2 420.0,615.2 423.0,617.2" fill="none" stroke="#000" stroke-width="1.5" stroke-linejoin="round" stroke-linecap="round" />
<path d="M429.3,609.5 C426.3,611.5 423.3,616.7 426.3,618.7" fill="none" stroke="#000" stroke-width="1.5" stroke-linejoin="round" stroke-linecap="round" />
<path d="M432.7,610.9 C429.7,612.9 426.7,618.3 429.7,620.3" fill="none" stroke="#000" stroke-width="1.5" stroke-linejoin="round" stroke-linecap="round" />
<path d="M436.0,612.2 C433.0,614.2 430.0,619.8 433.0,621.8" fill="none" stroke="#000" stroke-width="1.5" stroke-linejoin="round" stroke-linecap="round" />
<path d="M439.3,613.5 C436.3,615.5 433.3,621.4 436.3,623.4" fill="none" stroke="#000" stroke-width="1.5" stroke-linejoin="round" stroke-linecap="round" />
<path d="M442.7,614.9 C439.7,616.9 436.7,622.9 439.7,624.9" fill="none" stroke="#000" stroke-width="1.5" stroke-linejoin="round" stroke-linecap="round" />
<path d="M462,623 L467,621.5 L474,621.2 L480.7,628 L480,638 L474,643.3 L466,643 L459.8,635 Z" fill="#fff" stroke="#000" stroke-width="1.8" stroke-linejoin="round" stroke-linecap="round" />
<ellipse cx="472.5" cy="632.3" rx="7.8" ry="10" fill="#fff" stroke="#000" stroke-width="1.5" transform="rotate(-10 472.5 632.3)"/>
<path d="M462,623 L466.5,626 M459.8,635 L465,638.5" fill="none" stroke="#000" stroke-width="1.3" stroke-linejoin="round" stroke-linecap="round" />
<ellipse cx="372.9" cy="643.3" rx="8.4" ry="9.3" fill="#fff" stroke="#000" stroke-width="1.9" transform="rotate(30 372.9 643.3)"/>
<ellipse cx="373.2" cy="643" rx="3.8" ry="5" fill="none" stroke="#000" stroke-width="1.6" transform="rotate(30 373.2 643)"/>
<path d="M406,655.8 L424.6,663 L423.5,668.8 L404.3,660.9 C403,659 404,656 406,655.8 Z" fill="#fff" stroke="#000" stroke-width="1.5" stroke-linejoin="round" stroke-linecap="round" />
<path d="M407.0,656.0 C405.0,657.5 404.5,660.0 405.5,661.5" fill="none" stroke="#000" stroke-width="1.1" stroke-linejoin="round" stroke-linecap="round" />
<path d="M409.3,656.9 C407.3,658.4 406.8,660.9 407.8,662.4" fill="none" stroke="#000" stroke-width="1.1" stroke-linejoin="round" stroke-linecap="round" />
<path d="M411.6,657.8 C409.6,659.3 409.1,661.8 410.1,663.3" fill="none" stroke="#000" stroke-width="1.1" stroke-linejoin="round" stroke-linecap="round" />
<path d="M413.9,658.7 C411.9,660.2 411.4,662.7 412.4,664.2" fill="none" stroke="#000" stroke-width="1.1" stroke-linejoin="round" stroke-linecap="round" />
<path d="M416.1,659.6 C414.1,661.1 413.6,663.6 414.6,665.1" fill="none" stroke="#000" stroke-width="1.1" stroke-linejoin="round" stroke-linecap="round" />
<path d="M418.4,660.5 C416.4,662.0 415.9,664.5 416.9,666.0" fill="none" stroke="#000" stroke-width="1.1" stroke-linejoin="round" stroke-linecap="round" />
<path d="M420.7,661.4 C418.7,662.9 418.2,665.4 419.2,666.9" fill="none" stroke="#000" stroke-width="1.1" stroke-linejoin="round" stroke-linecap="round" />
<path d="M423,661 L428,659.8 L433.5,661.5 L435.4,667 L433,673 L428,674.5 L423.5,672.5 L422.4,665 Z" fill="#fff" stroke="#000" stroke-width="1.7" stroke-linejoin="round" stroke-linecap="round" />
<path d="M428,660 C432,661 434,665 433.5,669 C433,672 430,674 428,674.5 M424,663 L427,661" fill="none" stroke="#000" stroke-width="1.2" stroke-linejoin="round" stroke-linecap="round" />
<ellipse cx="265.8" cy="676.9" rx="11.2" ry="9.3" fill="#fff" stroke="#000" stroke-width="1.9"/>
<ellipse cx="266" cy="676.2" rx="6.4" ry="4.6" fill="none" stroke="#000" stroke-width="1.6"/>
<ellipse cx="274.3" cy="705.8" rx="10" ry="8.9" fill="#fff" stroke="#000" stroke-width="2.6"/>
<ellipse cx="274.5" cy="707.5" rx="6" ry="4.8" fill="none" stroke="#000" stroke-width="2.2"/>
<path d="M265,703 C268,698 280,698 283.5,703 M267,700.5 C270,697.5 278,697.5 281,700" fill="none" stroke="#000" stroke-width="1.8" stroke-linejoin="round" stroke-linecap="round" />
<rect x="271" y="705.5" width="7" height="3.5" fill="#000"/>
<ellipse cx="283.4" cy="736.6" rx="11.2" ry="9.3" fill="#fff" stroke="#000" stroke-width="1.9"/>
<ellipse cx="283.4" cy="736.2" rx="6" ry="4.3" fill="none" stroke="#000" stroke-width="1.6"/>
<ellipse cx="293" cy="764.2" rx="8.3" ry="7.9" fill="#fff" stroke="#000" stroke-width="2.2"/>
<ellipse cx="293.5" cy="766" rx="5" ry="3.8" fill="none" stroke="#000" stroke-width="2"/>
<path d="M286,762 C288,758 297,758 300,762" fill="none" stroke="#000" stroke-width="1.6" stroke-linejoin="round" stroke-linecap="round" />
<path d="M65.4,671 L65.4,832 M73.5,671 L73.5,832" fill="none" stroke="#000" stroke-width="1.7" stroke-linejoin="round" stroke-linecap="round" />
<ellipse cx="69.45" cy="670.5" rx="4.05" ry="2" fill="#fff" stroke="#000" stroke-width="1.5"/>
<path d="M65.6,674.0 Q69.5,676.5 73.3,674.0" fill="none" stroke="#000" stroke-width="1.3" stroke-linejoin="round" stroke-linecap="round" />
<path d="M65.6,678.3 Q69.5,680.8 73.3,678.3" fill="none" stroke="#000" stroke-width="1.3" stroke-linejoin="round" stroke-linecap="round" />
<path d="M65.6,682.6 Q69.5,685.1 73.3,682.6" fill="none" stroke="#000" stroke-width="1.3" stroke-linejoin="round" stroke-linecap="round" />
<path d="M65.6,686.9 Q69.5,689.4 73.3,686.9" fill="none" stroke="#000" stroke-width="1.3" stroke-linejoin="round" stroke-linecap="round" />
<path d="M65.6,691.2 Q69.5,693.7 73.3,691.2" fill="none" stroke="#000" stroke-width="1.3" stroke-linejoin="round" stroke-linecap="round" />
<path d="M65.6,695.5 Q69.5,698.0 73.3,695.5" fill="none" stroke="#000" stroke-width="1.3" stroke-linejoin="round" stroke-linecap="round" />
<path d="M65.6,699.8 Q69.5,702.3 73.3,699.8" fill="none" stroke="#000" stroke-width="1.3" stroke-linejoin="round" stroke-linecap="round" />
<path d="M61.4,833 L64,829.7 L74.5,829.7 L76.8,833 L76.8,839 M61.4,833 L61.4,839 M61.4,834 C65,836.5 73,836.5 76.8,834 M66,835 L66,839 M72.5,835 L72.5,839" fill="none" stroke="#000" stroke-width="1.5" stroke-linejoin="round" stroke-linecap="round" />
<path d="M725.3,592.1 C716,593 705,606 702.2,618 C701,626 701,636 705.3,642 L709.1,644.3 L735,652.5" fill="none" stroke="#000" stroke-width="2" stroke-linejoin="round" stroke-linecap="round" />
<path d="M725.3,592.1 L752.5,600.1" fill="none" stroke="#000" stroke-width="2" stroke-linejoin="round" stroke-linecap="round" />
<ellipse cx="748" cy="626.5" rx="15.3" ry="27.5" fill="#fff" stroke="#000" stroke-width="2" transform="rotate(20 748 626.5)"/>
<path d="M746.5,605.5 C746.5,616 744,629 738,637 C735,641 733,644 732.5,649" fill="none" stroke="#000" stroke-width="1.7" stroke-linejoin="round" stroke-linecap="round" />
<path d="M805,613.8 C792,620 782.5,635 782.5,648.8 C782.5,660 788,669 796.3,672.6 L812,676 L830,670 L830,621.3 Z" fill="#fff" stroke="#000" stroke-width="1.8" stroke-linejoin="round" stroke-linecap="round" />
<path d="M805,613.8 L830,621.3" fill="none" stroke="#000" stroke-width="1.8" stroke-linejoin="round" stroke-linecap="round" />
<path d="M827.6,649 C818,648 808,652 806.3,662 C805.5,675 812,688 827.6,690" fill="#fff" stroke="#000" stroke-width="1.7" stroke-linejoin="round" stroke-linecap="round" />
<path d="M828.8,624 L829.5,630 C833,633.5 845,633 848.8,628.5 L848.8,622 C845,618.5 834,618.5 828.8,624 Z" fill="#fff" stroke="#000" stroke-width="1.7" stroke-linejoin="round" stroke-linecap="round" />
<path d="M829.5,624.5 C834,627.5 844,627 848.5,622.5" fill="none" stroke="#000" stroke-width="1.4" stroke-linejoin="round" stroke-linecap="round" />
<path d="M827.6,644 C827.6,641 829,640 831,639 L874,616.5 C877,615.5 878,616.5 878,618 L878.9,673 C878.9,675 878,676.5 876,677.5 L836,703 C834,704 833,704 833,702 Z" fill="#fff" stroke="#000" stroke-width="2.2" stroke-linejoin="round" stroke-linecap="round" />
<path d="M827.6,644 L827.6,698 C828,702 831,704.5 834,703.5" fill="none" stroke="#000" stroke-width="2" stroke-linejoin="round" stroke-linecap="round" />
<path d="M833.5,648 C833.5,645.5 835,644 837,643 L872,622.5 C874.5,621.5 876,622.5 876,624.5 L876.4,670 C876.4,672 875.5,673.5 873.5,674.5 L840,697 C838,698.5 836.5,698 836.5,696 Z" fill="none" stroke="#000" stroke-width="1.7" stroke-linejoin="round" stroke-linecap="round" />
<path d="M830.5,646 L830.5,700" fill="none" stroke="#000" stroke-width="1.4" stroke-linejoin="round" stroke-linecap="round" />
<path d="M840,647 L840,694 M843,693 C850,690 868,678 873,672" fill="none" stroke="#000" stroke-width="1.2" stroke-linejoin="round" stroke-linecap="round" />
<ellipse cx="857.6" cy="660.7" rx="15" ry="20.7" fill="none" stroke="#000" stroke-width="1.5" transform="rotate(8 857.6 660.7)"/>
<path d="M866.5,642.5 C872,650 872.5,670 867.5,681" fill="none" stroke="#000" stroke-width="2.6" stroke-linejoin="round" stroke-linecap="round" />
<ellipse cx="862.6" cy="663.8" rx="5.6" ry="9.4" fill="none" stroke="#000" stroke-width="1.3" transform="rotate(8 862.6 663.8)"/>
<ellipse cx="843.2" cy="648.8" rx="2.9" ry="3.4" fill="none" stroke="#000" stroke-width="1.6"/>
<ellipse cx="872" cy="630" rx="2.9" ry="3.4" fill="none" stroke="#000" stroke-width="1.6"/>
<ellipse cx="872.5" cy="668" rx="2.9" ry="3.4" fill="none" stroke="#000" stroke-width="1.6"/>
<ellipse cx="843.8" cy="691.4" rx="2.9" ry="3.4" fill="none" stroke="#000" stroke-width="1.6"/>
<path d="M878.9,628 L883,628.5 L883.9,635.5 L879,636.5" fill="none" stroke="#000" stroke-width="1.5" stroke-linejoin="round" stroke-linecap="round" />
<path d="M811.3,664 L820,660 L826.3,663 L826.3,672 L817.5,676 L811.3,673 Z" fill="#fff" stroke="#000" stroke-width="1.8" stroke-linejoin="round" stroke-linecap="round" />
<path d="M820,660 L817.5,667 L817.5,676 M811.3,664 L817.5,667 L826.3,663" fill="none" stroke="#000" stroke-width="1.3" stroke-linejoin="round" stroke-linecap="round" />
<path d="M816,664.5 L797.5,676.5 C794.5,678.5 794.5,684 799,685.5 C800.5,686 802,685.8 803,685.2 L821.5,673 Z" fill="#fff" stroke="#000" stroke-width="2" stroke-linejoin="round" stroke-linecap="round" />
<path d="M800.0,675.1 C803.2,677.2 803.7,681.2 805.5,683.4" fill="none" stroke="#000" stroke-width="1.4" stroke-linejoin="round" stroke-linecap="round" />
<path d="M803.0,673.0 C806.3,675.2 806.8,679.2 808.5,681.3" fill="none" stroke="#000" stroke-width="1.4" stroke-linejoin="round" stroke-linecap="round" />
<path d="M806.1,671.0 C809.3,673.1 809.8,677.1 811.6,679.3" fill="none" stroke="#000" stroke-width="1.4" stroke-linejoin="round" stroke-linecap="round" />
<path d="M809.1,668.9 C812.4,671.1 812.9,675.1 814.6,677.2" fill="none" stroke="#000" stroke-width="1.4" stroke-linejoin="round" stroke-linecap="round" />
<path d="M812.2,666.9 C815.4,669.0 815.9,673.0 817.7,675.2" fill="none" stroke="#000" stroke-width="1.4" stroke-linejoin="round" stroke-linecap="round" />
<path d="M716.6,669.5 L720.6,667.5 L733.5,666.3 L738.3,668.7 L737.5,693.6 L738.3,712.9 L740.7,735.4 L737.5,737 L723.8,735.4 L719.8,727.4 L717.4,714.5 L715.8,695.2 Z" fill="#fff" stroke="#000" stroke-width="1.8" stroke-linejoin="round" stroke-linecap="round" />
<ellipse cx="727.8" cy="677.5" rx="5.4" ry="5.9" fill="none" stroke="#000" stroke-width="1.8"/>
<ellipse cx="728.6" cy="725.8" rx="5" ry="5.5" fill="none" stroke="#000" stroke-width="1.8"/>
<path d="M715.8,694.4 L738.3,692 M717.4,712.1 L721,712.1 M724,712.1 L730,712.1 M733,712.1 L738.3,712.1" fill="none" stroke="#000" stroke-width="1.6" stroke-linejoin="round" stroke-linecap="round" />
<path d="M738,669 L737.5,693" fill="none" stroke="#000" stroke-width="2.4" stroke-linejoin="round" stroke-linecap="round" />
<ellipse cx="692.5" cy="750.7" rx="9.8" ry="10.3" fill="#fff" stroke="#000" stroke-width="1.9" transform="rotate(25 692.5 750.7)"/>
<path d="M698.30,750.70 L696.37,752.66 L696.12,755.46 L693.46,755.10 L691.21,756.64 L689.82,754.23 L687.27,753.34 L688.20,750.70 L687.27,748.06 L689.82,747.17 L691.21,744.76 L693.46,746.30 L696.12,745.94 L696.37,748.74 Z" fill="none" stroke="#000" stroke-width="1.2" stroke-linejoin="round" stroke-linecap="round" />
<path d="M676.04,772.28 L668.62,778.50 L658.48,776.22 L655.76,767.72 L663.18,761.50 L673.32,763.78 Z" fill="#fff" stroke="#000" stroke-width="1.6" stroke-linejoin="round" stroke-linecap="round" />
<ellipse cx="665.5" cy="770.5" rx="7" ry="6" fill="none" stroke="#000" stroke-width="1.3"/>
<ellipse cx="665.5" cy="770.5" rx="4.5" ry="3.8" fill="none" stroke="#000" stroke-width="1.4"/>
<path d="M664,767 L667,774" fill="none" stroke="#000" stroke-width="1.3" stroke-linejoin="round" stroke-linecap="round" />
<path d="M833.9,732.7 L833.2,754.9 L828,772.6 L824.3,790.4 L819.9,794.8 L800.7,787.4 L797.7,772.6 L793.3,771.2 L788.1,765.2 L796.3,759.3 L815.5,765.2 L819.9,790.4 L824.3,798.5 L831.7,797.8 L839.1,781.5 L848,778.5 L852.4,763.8 L853.9,737.2 L862,730.5 L859.8,724.6 L843.5,723.9 L834.7,729.8 Z" fill="#fff" stroke="#000" stroke-width="1.8" stroke-linejoin="round" stroke-linecap="round" />
<path d="M815.5,765.2 L806.6,772.6 L797.7,772.6" fill="none" stroke="#000" stroke-width="1.6" stroke-linejoin="round" stroke-linecap="round" />
<path d="M834.7,729.8 L839.1,734.2 L853.9,737.2" fill="none" stroke="#000" stroke-width="1.6" stroke-linejoin="round" stroke-linecap="round" />
<ellipse cx="848.7" cy="729" rx="5.2" ry="2.7" fill="none" stroke="#000" stroke-width="1.5"/>
<ellipse cx="798.5" cy="766.7" rx="5.2" ry="2.7" fill="none" stroke="#000" stroke-width="1.5"/>
<path d="M798.5,764 L798.5,769.5" fill="none" stroke="#000" stroke-width="1.1" stroke-linejoin="round" stroke-linecap="round" />
<path d="M815.5,765.2 L817,780 L819.9,790.4" fill="none" stroke="#000" stroke-width="2" stroke-linejoin="round" stroke-linecap="round" />
<path d="M829,782 L836,783" fill="none" stroke="#000" stroke-width="1.3" stroke-linejoin="round" stroke-linecap="round" />
<path d="M796.3,821.4 L796.3,809 C798,807.5 803,807.5 804.4,809 L804.4,821.4" fill="#fff" stroke="#000" stroke-width="1.5" stroke-linejoin="round" stroke-linecap="round" />
<path d="M797,813 L803.5,813 M797,817 L803.5,817" fill="none" stroke="#000" stroke-width="1.2" stroke-linejoin="round" stroke-linecap="round" />
<path d="M792.6,824 L792.6,831 C795,834 806,834 808.8,831 L808.8,824 C806,820.5 795,820.5 792.6,824 Z" fill="#fff" stroke="#000" stroke-width="1.5" stroke-linejoin="round" stroke-linecap="round" />
<path d="M792.6,826 C795,828.5 806,828.5 808.8,826 M797,827.5 L797,833 M804,827.5 L804,833" fill="none" stroke="#000" stroke-width="1.2" stroke-linejoin="round" stroke-linecap="round" />
<ellipse cx="938.4" cy="763.9" rx="7.2" ry="4.8" fill="#fff" stroke="#000" stroke-width="1.7" transform="rotate(-15 938.4 763.9)"/>
<ellipse cx="938.6" cy="763.6" rx="3.5" ry="2.4" fill="none" stroke="#000" stroke-width="1.3" transform="rotate(-15 938.6 763.6)"/>
<ellipse cx="950.9" cy="793" rx="7" ry="5.4" fill="#fff" stroke="#000" stroke-width="1.6"/>
<path d="M945,790 L956,790 M944.5,795 L957,795 M950,788 L950,798" fill="none" stroke="#000" stroke-width="1.2" stroke-linejoin="round" stroke-linecap="round" />
</svg></body></html>
